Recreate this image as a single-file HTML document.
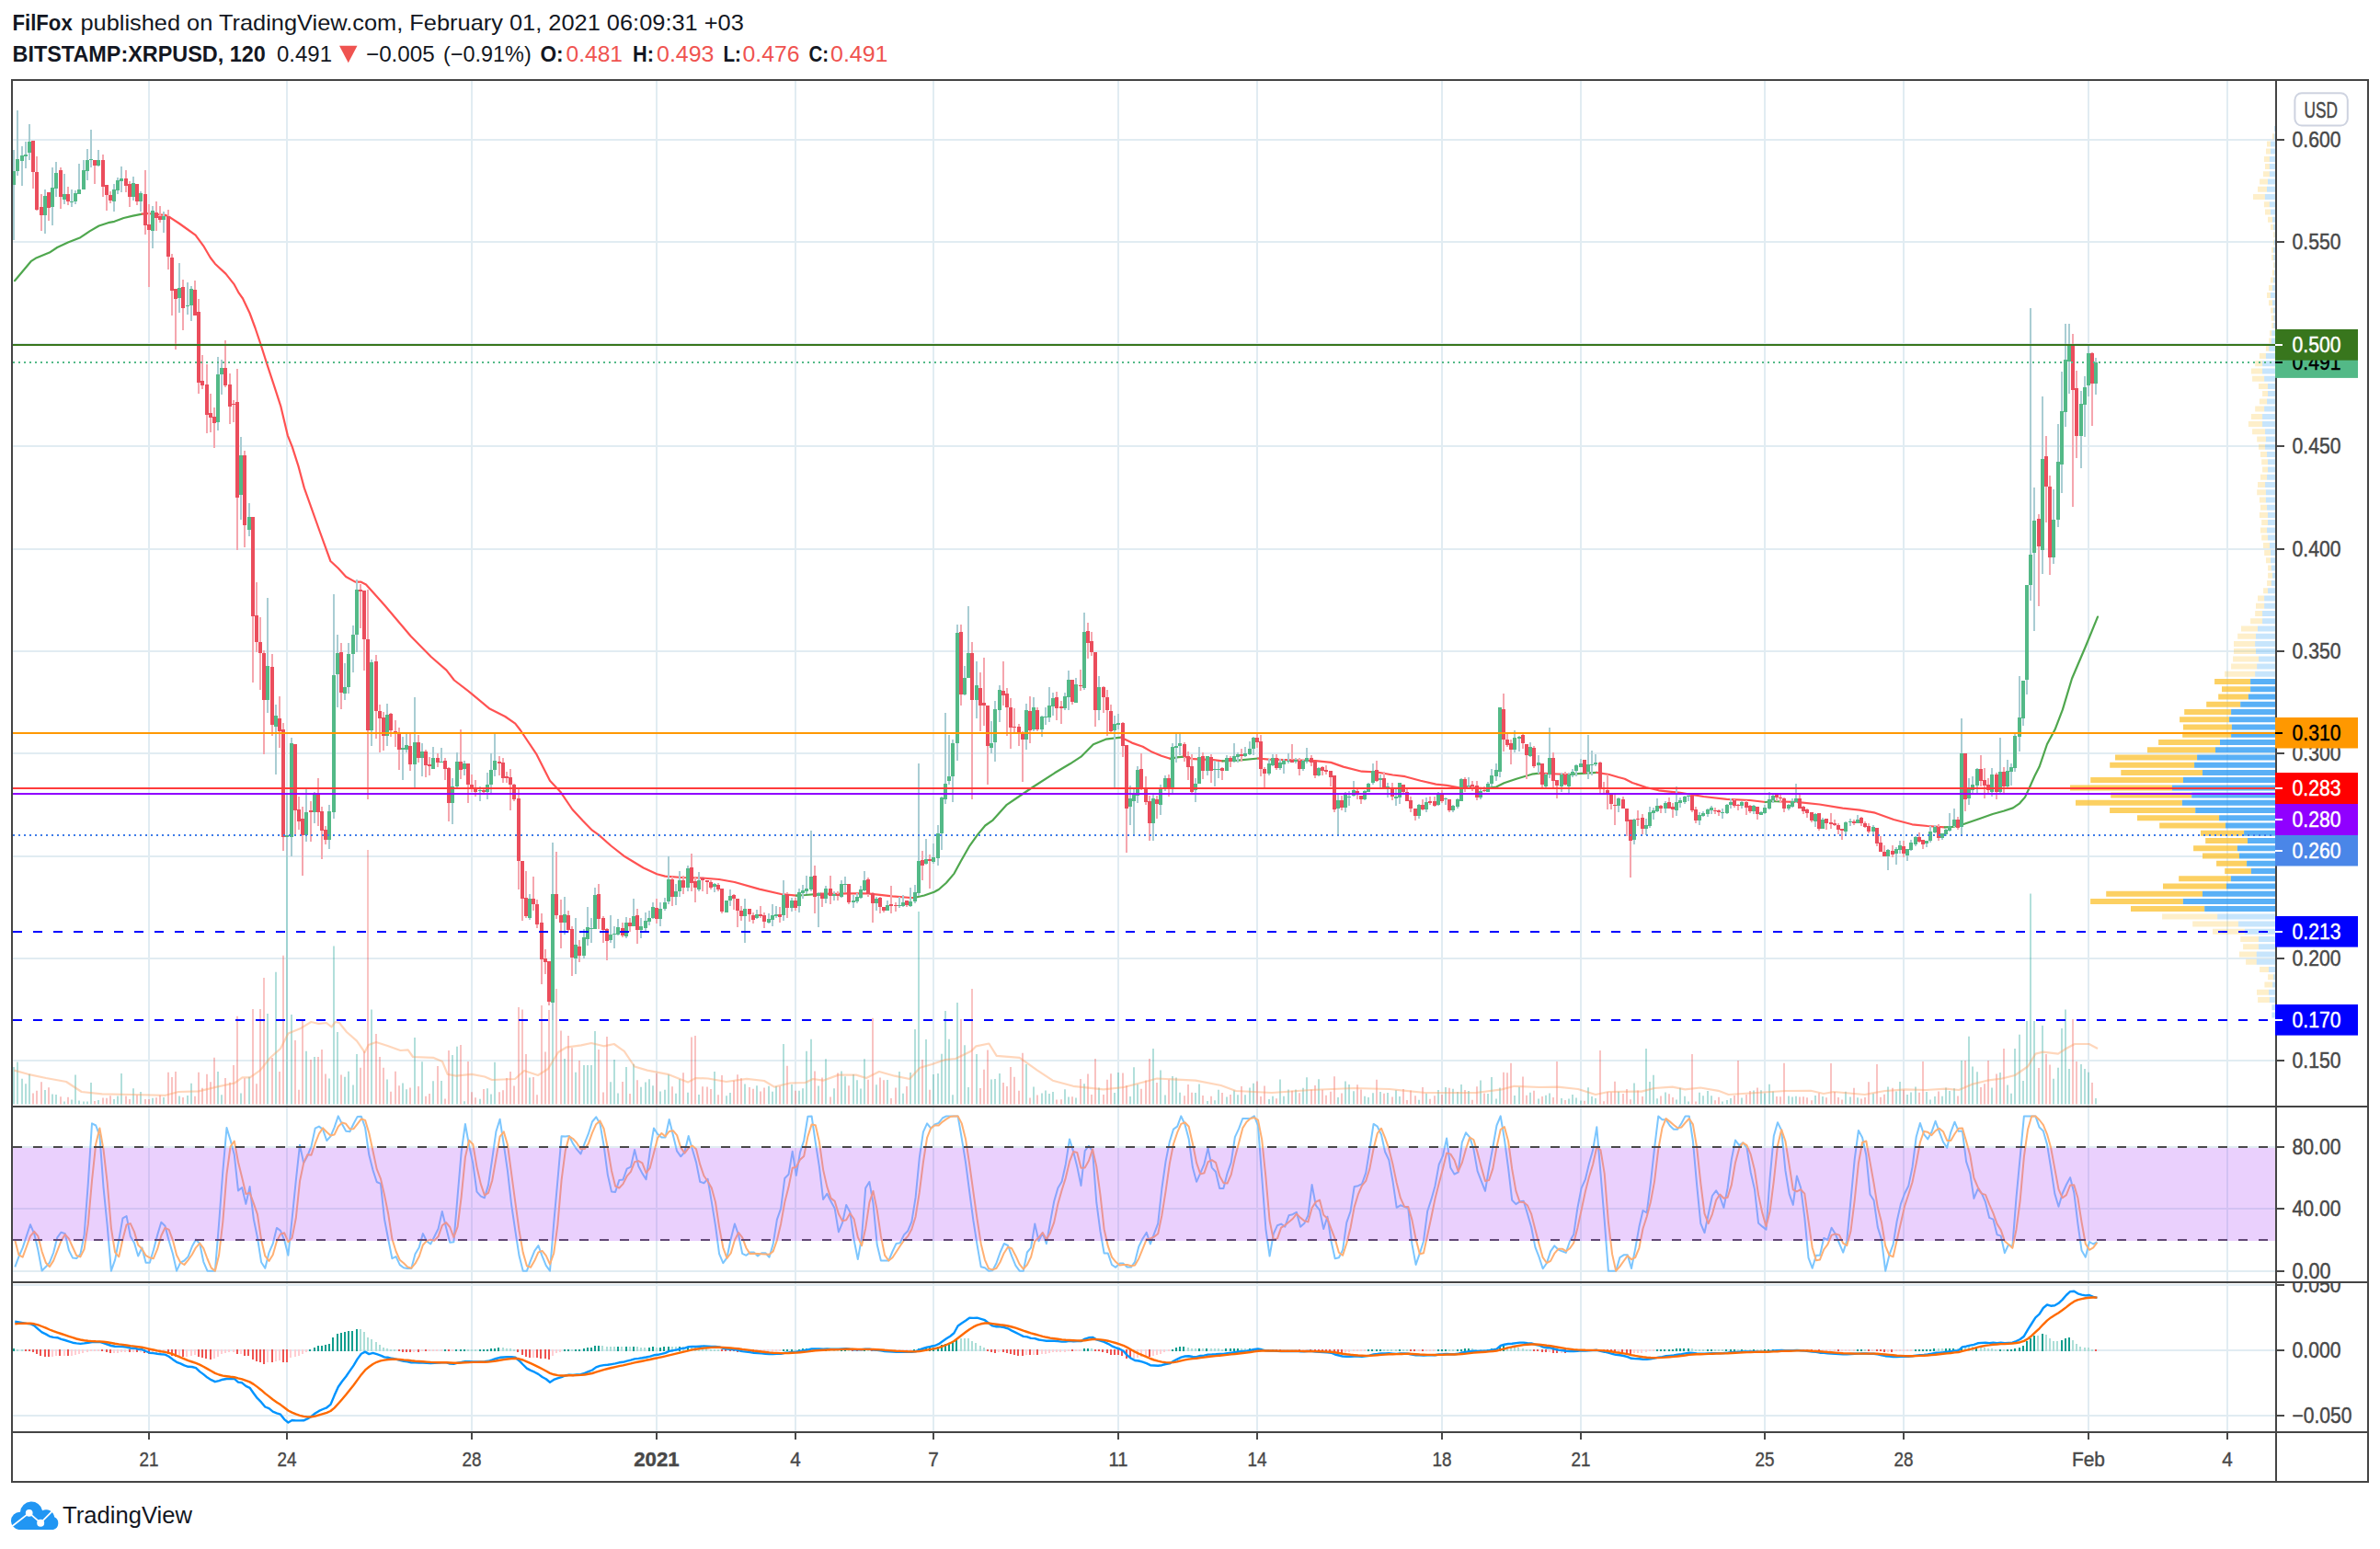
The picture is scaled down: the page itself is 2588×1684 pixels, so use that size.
<!DOCTYPE html><html><head><meta charset="utf-8"><title>XRPUSD chart</title><style>html,body{margin:0;padding:0;background:#fff}svg{display:block}</style></head><body><svg width="2588" height="1684" viewBox="0 0 2588 1684" font-family='"Liberation Sans", sans-serif'>
<rect width="2588" height="1684" fill="#fff"/>
<path d="M162 88V1557M312 88V1557M513 88V1557M714 88V1557M865 88V1557M1015 88V1557M1216 88V1557M1367 88V1557M1568 88V1557M1719 88V1557M1919 88V1557M2070 88V1557M2271 88V1557M2422 88V1557M14 152H2475M14 263H2475M14 374H2475M14 485H2475M14 597H2475M14 708H2475M14 819H2475M14 931H2475M14 1042H2475M14 1153H2475M14 1247H2475M14 1314H2475M14 1382H2475M14 1397H2475M14 1468H2475M14 1539H2475" stroke="#e1ecf2" stroke-width="2" fill="none"/>
<path d="M2408.1 738.1H2447.1V744.1H2408.1ZM2416 746.3H2447.1V752.3H2416ZM2412.2 754.5H2444.9V760.5H2412.2ZM2399.2 762.8H2436.2V768.8H2399.2ZM2375.2 771H2426.1V777H2375.2ZM2370.1 779.3H2424.1V785.3H2370.1ZM2374 787.5H2426.9V793.5H2374ZM2373.2 795.7H2426.1V801.7H2373.2ZM2347.1 804H2414V810H2347.1ZM2335 812.2H2409V818.2H2335ZM2300 820.4H2389.1V826.4H2300ZM2294.2 828.7H2386.1V834.7H2294.2ZM2306.3 836.9H2395V842.9H2306.3ZM2273.2 845.1H2374V851.1H2273.2ZM2251 853.4H2362V859.4H2251ZM2295.2 861.6H2383.2V867.6H2295.2ZM2257 869.8H2372.9V875.8H2257ZM2294.1 878.1H2387.2V884.1H2294.1ZM2324 886.3H2413.1V892.3H2324ZM2348.2 894.5H2420V900.5H2348.2ZM2393 902.8H2440.1V908.8H2393ZM2398.2 911H2444V917H2398.2ZM2385.1 919.2H2432.9V925.2H2385.1ZM2395 927.5H2435V933.5H2395ZM2410.1 935.7H2443.1V941.7H2410.1ZM2419.2 944H2447.9V950H2419.2ZM2369.2 952.2H2425.9V958.2H2369.2ZM2352 960.4H2421V966.4H2352ZM2290.2 968.7H2395V974.7H2290.2ZM2273.1 976.9H2373.9V982.9H2273.1ZM2317 985.1H2397.2V991.1H2317Z" fill="#fbc02d" fill-opacity="0.75"/>
<path d="M2447.1 738.1H2474V744.1H2447.1ZM2447.1 746.3H2474V752.3H2447.1ZM2444.9 754.5H2474V760.5H2444.9ZM2436.2 762.8H2474V768.8H2436.2ZM2426.1 771H2474V777H2426.1ZM2424.1 779.3H2474V785.3H2424.1ZM2426.9 787.5H2474V793.5H2426.9ZM2426.1 795.7H2474V801.7H2426.1ZM2414 804H2474V810H2414ZM2409 812.2H2474V818.2H2409ZM2389.1 820.4H2474V826.4H2389.1ZM2386.1 828.7H2474V834.7H2386.1ZM2395 836.9H2474V842.9H2395ZM2374 845.1H2474V851.1H2374ZM2362 853.4H2474V859.4H2362ZM2383.2 861.6H2474V867.6H2383.2ZM2372.9 869.8H2474V875.8H2372.9ZM2387.2 878.1H2474V884.1H2387.2ZM2413.1 886.3H2474V892.3H2413.1ZM2420 894.5H2474V900.5H2420ZM2440.1 902.8H2474V908.8H2440.1ZM2444 911H2474V917H2444ZM2432.9 919.2H2474V925.2H2432.9ZM2435 927.5H2474V933.5H2435ZM2443.1 935.7H2474V941.7H2443.1ZM2447.9 944H2474V950H2447.9ZM2425.9 952.2H2474V958.2H2425.9ZM2421 960.4H2474V966.4H2421ZM2395 968.7H2474V974.7H2395ZM2373.9 976.9H2474V982.9H2373.9ZM2397.2 985.1H2474V991.1H2397.2Z" fill="#2196f3" fill-opacity="0.75"/>
<path d="M2471 145.2H2472.8V151.2H2471ZM2465 153.4H2468.9V159.4H2465ZM2464 161.6H2468.9V167.6H2464ZM2461.9 169.9H2467.9V175.9H2461.9ZM2463 178.1H2467.9V184.1H2463ZM2461 186.3H2467.9V192.3H2461ZM2457.1 194.6H2466V200.6H2457.1ZM2455 202.8H2465V208.8H2455ZM2450 211H2462.9V217H2450ZM2461.9 219.3H2467.9V225.3H2461.9ZM2463 227.5H2468.9V233.5H2463ZM2466 235.7H2471V241.7H2466ZM2468.9 244H2471.9V250H2468.9ZM2472 252.2H2473.5V258.2H2472ZM2472 260.5H2473V266.5H2472ZM2470 268.7H2471.9V274.7H2470ZM2470 276.9H2472V282.9H2470ZM2472 285.2H2473.3V291.2H2472ZM2471 293.4H2473V299.4H2471ZM2468.9 301.6H2471.9V307.6H2468.9ZM2467 309.9H2471V315.9H2467ZM2465 318.1H2468.9V324.1H2465ZM2467 326.3H2471V332.3H2467ZM2469 334.6H2471.8V340.6H2469ZM2469.8 342.8H2472.3V348.8H2469.8ZM2470.3 351H2472.3V357H2470.3ZM2468.1 359.3H2470.3V365.3H2468.1ZM2467.3 367.5H2469.8V373.5H2467.3ZM2463.9 375.7H2467.3V381.7H2463.9ZM2456.9 384H2463.9V390H2456.9ZM2452.2 392.2H2460.1V398.2H2452.2ZM2447.9 400.4H2460.1V406.4H2447.9ZM2449.1 408.7H2462.2V414.7H2449.1ZM2456 416.9H2466.1V422.9H2456ZM2460.1 425.1H2466.1V431.1H2460.1ZM2456.9 433.4H2465.1V439.4H2456.9ZM2452.2 441.6H2462.2V447.6H2452.2ZM2447.9 449.9H2460.1V455.9H2447.9ZM2444.9 458.1H2460.1V464.1H2444.9ZM2449.1 466.3H2463.1V472.3H2449.1ZM2454.2 474.6H2463.9V480.6H2454.2ZM2456 482.8H2463.1V488.8H2456ZM2458 491H2465.1V497H2458ZM2459.2 499.3H2466.1V505.3H2459.2ZM2460.1 507.5H2466.1V513.5H2460.1ZM2458 515.7H2465.1V521.7H2458ZM2455 524H2463.1V530H2455ZM2454.2 532.2H2463.9V538.2H2454.2ZM2456.9 540.4H2463.9V546.4H2456.9ZM2458 548.7H2465.1V554.7H2458ZM2456.9 556.9H2466.1V562.9H2456.9ZM2459.2 565.1H2466.1V571.1H2459.2ZM2458 573.4H2465.1V579.4H2458ZM2459.2 581.6H2466.1V587.6H2459.2ZM2461 589.9H2468V595.9H2461ZM2462.2 598.1H2469V604.1H2462.2ZM2464 606.3H2469V612.3H2464ZM2466.1 614.6H2469.8V620.6H2466.1ZM2466.1 622.8H2471V628.8H2466.1ZM2465.1 631H2469.8V637H2465.1ZM2461.1 639.3H2466.1V645.3H2461.1ZM2455 647.5H2462.2V653.5H2455ZM2453 655.7H2462.2V661.7H2453ZM2452.2 664H2460.1V670H2452.2ZM2447.1 672.2H2460.1V678.2H2447.1ZM2437 680.4H2455V686.4H2437ZM2433.2 688.7H2453V694.7H2433.2ZM2429 696.9H2452.2V702.9H2429ZM2429 705.1H2453V711.1H2429ZM2428.1 713.4H2456V719.4H2428.1ZM2426.1 721.6H2454.2V727.6H2426.1ZM2419 729.8H2452.2V735.8H2419ZM2351.1 993.4H2411.2V999.4H2351.1ZM2384.2 1001.6H2434V1007.6H2384.2ZM2406 1009.8H2440.9V1015.8H2406ZM2436.2 1018.1H2456V1024.1H2436.2ZM2439.1 1026.3H2456V1032.3H2439.1ZM2435 1034.5H2453.8V1040.5H2435ZM2442.1 1042.8H2453.8V1048.8H2442.1ZM2457.1 1051H2467.1V1057H2457.1ZM2466.1 1059.2H2472V1065.2H2466.1ZM2462.4 1067.5H2471.2V1073.5H2462.4ZM2454 1075.7H2467.1V1081.7H2454ZM2455.1 1084H2467.9V1090H2455.1Z" fill="#fbc02d" fill-opacity="0.25"/>
<path d="M2473 136.9H2474V142.9H2473ZM2472.8 145.2H2474V151.2H2472.8ZM2468.9 153.4H2474V159.4H2468.9ZM2468.9 161.6H2474V167.6H2468.9ZM2467.9 169.9H2474V175.9H2467.9ZM2467.9 178.1H2474V184.1H2467.9ZM2467.9 186.3H2474V192.3H2467.9ZM2466 194.6H2474V200.6H2466ZM2465 202.8H2474V208.8H2465ZM2462.9 211H2474V217H2462.9ZM2467.9 219.3H2474V225.3H2467.9ZM2468.9 227.5H2474V233.5H2468.9ZM2471 235.7H2474V241.7H2471ZM2471.9 244H2474V250H2471.9ZM2473.5 252.2H2474V258.2H2473.5ZM2473 260.5H2474V266.5H2473ZM2471.9 268.7H2474V274.7H2471.9ZM2472 276.9H2474V282.9H2472ZM2473.3 285.2H2474V291.2H2473.3ZM2473 293.4H2474V299.4H2473ZM2471.9 301.6H2474V307.6H2471.9ZM2471 309.9H2474V315.9H2471ZM2468.9 318.1H2474V324.1H2468.9ZM2471 326.3H2474V332.3H2471ZM2471.8 334.6H2474V340.6H2471.8ZM2472.3 342.8H2474V348.8H2472.3ZM2472.3 351H2474V357H2472.3ZM2470.3 359.3H2474V365.3H2470.3ZM2469.8 367.5H2474V373.5H2469.8ZM2467.3 375.7H2474V381.7H2467.3ZM2463.9 384H2474V390H2463.9ZM2460.1 392.2H2474V398.2H2460.1ZM2460.1 400.4H2474V406.4H2460.1ZM2462.2 408.7H2474V414.7H2462.2ZM2466.1 416.9H2474V422.9H2466.1ZM2466.1 425.1H2474V431.1H2466.1ZM2465.1 433.4H2474V439.4H2465.1ZM2462.2 441.6H2474V447.6H2462.2ZM2460.1 449.9H2474V455.9H2460.1ZM2460.1 458.1H2474V464.1H2460.1ZM2463.1 466.3H2474V472.3H2463.1ZM2463.9 474.6H2474V480.6H2463.9ZM2463.1 482.8H2474V488.8H2463.1ZM2465.1 491H2474V497H2465.1ZM2466.1 499.3H2474V505.3H2466.1ZM2466.1 507.5H2474V513.5H2466.1ZM2465.1 515.7H2474V521.7H2465.1ZM2463.1 524H2474V530H2463.1ZM2463.9 532.2H2474V538.2H2463.9ZM2463.9 540.4H2474V546.4H2463.9ZM2465.1 548.7H2474V554.7H2465.1ZM2466.1 556.9H2474V562.9H2466.1ZM2466.1 565.1H2474V571.1H2466.1ZM2465.1 573.4H2474V579.4H2465.1ZM2466.1 581.6H2474V587.6H2466.1ZM2468 589.9H2474V595.9H2468ZM2469 598.1H2474V604.1H2469ZM2469 606.3H2474V612.3H2469ZM2469.8 614.6H2474V620.6H2469.8ZM2471 622.8H2474V628.8H2471ZM2469.8 631H2474V637H2469.8ZM2466.1 639.3H2474V645.3H2466.1ZM2462.2 647.5H2474V653.5H2462.2ZM2462.2 655.7H2474V661.7H2462.2ZM2460.1 664H2474V670H2460.1ZM2460.1 672.2H2474V678.2H2460.1ZM2455 680.4H2474V686.4H2455ZM2453 688.7H2474V694.7H2453ZM2452.2 696.9H2474V702.9H2452.2ZM2453 705.1H2474V711.1H2453ZM2456 713.4H2474V719.4H2456ZM2454.2 721.6H2474V727.6H2454.2ZM2452.2 729.8H2474V735.8H2452.2ZM2411.2 993.4H2474V999.4H2411.2ZM2434 1001.6H2474V1007.6H2434ZM2440.9 1009.8H2474V1015.8H2440.9ZM2456 1018.1H2474V1024.1H2456ZM2456 1026.3H2474V1032.3H2456ZM2453.8 1034.5H2474V1040.5H2453.8ZM2453.8 1042.8H2474V1048.8H2453.8ZM2467.1 1051H2474V1057H2467.1ZM2472 1059.2H2474V1065.2H2472ZM2471.2 1067.5H2474V1073.5H2471.2ZM2467.1 1075.7H2474V1081.7H2467.1ZM2467.9 1084H2474V1090H2467.9ZM2470.4 1092.2H2474V1098.2H2470.4ZM2470.4 1100.4H2474V1106.4H2470.4Z" fill="#2196f3" fill-opacity="0.25"/>
<path d="M15 1159.9V1200.5M19 1154.6V1200.5M24 1172.8V1200.5M28 1178.2V1200.5M32 1167.8V1200.5M49 1184.9V1200.5M57 1189.5V1200.5M61 1189.9V1200.5M70 1197.5V1200.5M78 1195.5V1200.5M82 1168.6V1200.5M86 1196.6V1200.5M91 1197.5V1200.5M95 1197.5V1200.5M99 1177V1200.5M107 1195.9V1200.5M124 1195V1200.5M128 1191.6V1200.5M132 1167V1200.5M145 1183.2V1200.5M153 1186.9V1200.5M166 1193.8V1200.5M178 1193V1200.5M195 1191.6V1200.5M204 1191V1200.5M208 1177.8V1200.5M237 1165V1200.5M241 1190.2V1200.5M262 1188.6V1200.5M271 1170.7V1200.5M291 1102V1200.5M300 1056.8V1200.5M312 864V1200.5M317 1103V1200.5M333 1142.8V1200.5M342 1149V1200.5M358 1172.5V1200.5M363 1028.5V1200.5M367 1122V1200.5M375 1170.8V1200.5M379 1164.8V1200.5M384 1179.6V1200.5M388 1146V1200.5M404 1097.6V1200.5M421 1173.5V1200.5M438 1177.5V1200.5M442 1184.3V1200.5M451 1128V1200.5M459 1154.2V1200.5M471 1175.2V1200.5M480 1174.9V1200.5M492 1147V1200.5M497 1137.8V1200.5M505 1197.3V1200.5M522 1194.7V1200.5M530 1183.2V1200.5M534 1189.4V1200.5M538 1154.7V1200.5M576 1171.4V1200.5M601 1075V1200.5M614 1151V1200.5M626 1165.8V1200.5M635 1158V1200.5M639 1158V1200.5M643 1158V1200.5M647 1121V1200.5M664 1176.2V1200.5M668 1152.1V1200.5M672 1188.5V1200.5M681 1160.1V1200.5M689 1156.8V1200.5M697 1181.7V1200.5M702 1176.5V1200.5M706 1173.2V1200.5M710 1180.2V1200.5M718 1186.6V1200.5M723 1184.8V1200.5M727 1168.3V1200.5M735 1188.7V1200.5M739 1173.2V1200.5M748 1187.8V1200.5M760 1190V1200.5M777 1165V1200.5M790 1191.3V1200.5M794 1188V1200.5M810 1178.6V1200.5M823 1180.3V1200.5M836 1180.8V1200.5M840 1186.8V1200.5M844 1181V1200.5M852 1135V1200.5M861 1179.1V1200.5M869 1185.7V1200.5M873 1183.2V1200.5M877 1142.8V1200.5M882 1129.8V1200.5M890 1180.6V1200.5M898 1151.3V1200.5M907 1183.3V1200.5M915 1164.6V1200.5M919 1170.3V1200.5M928 1167.9V1200.5M932 1174.3V1200.5M936 1183.6V1200.5M940 1151.3V1200.5M953 1179.3V1200.5M965 1173.9V1200.5M978 1165.1V1200.5M982 1188.8V1200.5M990 1166V1200.5M995 1119V1200.5M999 991V1200.5M1007 1129.9V1200.5M1015 1168.1V1200.5M1020 1167V1200.5M1024 1145.7V1200.5M1028 1099V1200.5M1032 1129.8V1200.5M1036 1190.2V1200.5M1041 1090V1200.5M1049 1136.3V1200.5M1053 1182.1V1200.5M1062 1146V1200.5M1078 1173.5V1200.5M1082 1172.9V1200.5M1087 1166.9V1200.5M1116 1156.9V1200.5M1124 1181.5V1200.5M1133 1188.6V1200.5M1137 1185.5V1200.5M1141 1188.9V1200.5M1145 1186.9V1200.5M1158 1184.2V1200.5M1162 1192.6V1200.5M1170 1193.5V1200.5M1179 1178.3V1200.5M1195 1182.4V1200.5M1212 1188V1200.5M1216 1165.9V1200.5M1229 1191.9V1200.5M1233 1160.3V1200.5M1237 1178.8V1200.5M1254 1140V1200.5M1262 1163.5V1200.5M1267 1190.5V1200.5M1275 1169.9V1200.5M1279 1171.5V1200.5M1283 1187.7V1200.5M1300 1188.1V1200.5M1304 1178.6V1200.5M1313 1197.1V1200.5M1321 1196.3V1200.5M1325 1184.8V1200.5M1334 1192.6V1200.5M1342 1185.6V1200.5M1346 1190.2V1200.5M1354 1190.3V1200.5M1359 1182.6V1200.5M1363 1177.8V1200.5M1380 1194.9V1200.5M1384 1191.8V1200.5M1392 1173.5V1200.5M1396 1191.8V1200.5M1401 1184.5V1200.5M1409 1184.4V1200.5M1417 1182.8V1200.5M1421 1171.3V1200.5M1434 1173.3V1200.5M1455 1192.9V1200.5M1463 1175.5V1200.5M1467 1179.1V1200.5M1472 1186.3V1200.5M1484 1191.7V1200.5M1488 1192.9V1200.5M1493 1188.2V1200.5M1501 1187.1V1200.5M1509 1188.1V1200.5M1518 1185.3V1200.5M1522 1192.1V1200.5M1543 1195.7V1200.5M1551 1188.7V1200.5M1564 1184.9V1200.5M1572 1181.9V1200.5M1580 1183.7V1200.5M1585 1186.9V1200.5M1589 1178.9V1200.5M1597 1186.1V1200.5M1610 1174.6V1200.5M1618 1189.1V1200.5M1622 1170.9V1200.5M1627 1194.5V1200.5M1631 1182.6V1200.5M1647 1191.1V1200.5M1652 1181.7V1200.5M1664 1187.7V1200.5M1673 1194.5V1200.5M1681 1190.7V1200.5M1685 1188.5V1200.5M1698 1194V1200.5M1706 1194.4V1200.5M1710 1189.9V1200.5M1714 1193.5V1200.5M1719 1196.4V1200.5M1727 1182.2V1200.5M1731 1192.1V1200.5M1735 1194V1200.5M1760 1186.8V1200.5M1777 1177.5V1200.5M1790 1140V1200.5M1794 1175.9V1200.5M1798 1168.8V1200.5M1802 1194.2V1200.5M1811 1187.4V1200.5M1823 1195.6V1200.5M1827 1182.8V1200.5M1832 1191.7V1200.5M1836 1197.5V1200.5M1848 1187.7V1200.5M1852 1191.3V1200.5M1857 1185.9V1200.5M1861 1191.3V1200.5M1873 1197.5V1200.5M1878 1196.1V1200.5M1882 1194V1200.5M1894 1193.6V1200.5M1907 1185.4V1200.5M1915 1185.3V1200.5M1919 1188.4V1200.5M1924 1178.7V1200.5M1928 1186.4V1200.5M1945 1191.5V1200.5M1949 1192.5V1200.5M1953 1191.8V1200.5M1974 1191V1200.5M1982 1191.9V1200.5M2007 1186.8V1200.5M2012 1192.4V1200.5M2020 1193.2V1200.5M2037 1188.8V1200.5M2053 1181.6V1200.5M2062 1186.6V1200.5M2066 1176V1200.5M2074 1189.9V1200.5M2078 1187.6V1200.5M2083 1181.4V1200.5M2095 1187V1200.5M2099 1195.4V1200.5M2104 1192V1200.5M2112 1191.7V1200.5M2116 1182.5V1200.5M2120 1186.1V1200.5M2125 1183.3V1200.5M2133 1153V1200.5M2141 1126.7V1200.5M2145 1159.4V1200.5M2150 1165.3V1200.5M2166 1182.5V1200.5M2175 1166V1200.5M2183 1179.5V1200.5M2187 1188.7V1200.5M2191 1140V1200.5M2196 1124.8V1200.5M2200 1175.1V1200.5M2204 1110V1200.5M2208 971.6V1200.5M2212 1110V1200.5M2221 1115V1200.5M2233 1172.7V1200.5M2238 1160.8V1200.5M2242 1117.9V1200.5M2246 1097.6V1200.5M2250 1162V1200.5M2263 1157V1200.5M2267 1162V1200.5M2271 1165.8V1200.5M2279 1194V1200.5" stroke="#26a69a" stroke-opacity="0.355" stroke-width="2" fill="none"/>
<path d="M36 1188.5V1200.5M40 1185.8V1200.5M45 1176.3V1200.5M53 1182.3V1200.5M66 1192.2V1200.5M74 1192.7V1200.5M103 1197.1V1200.5M112 1193.4V1200.5M116 1193.8V1200.5M120 1191.2V1200.5M137 1191.5V1200.5M141 1195.1V1200.5M149 1190.5V1200.5M158 1194.9V1200.5M162 1195.1V1200.5M170 1193.3V1200.5M174 1190.7V1200.5M183 1165.8V1200.5M187 1171V1200.5M191 1165V1200.5M199 1193.1V1200.5M212 1191.8V1200.5M216 1165.8V1200.5M220 1182.8V1200.5M225 1167.8V1200.5M229 1176.3V1200.5M233 1149.8V1200.5M245 1172V1200.5M250 1176.8V1200.5M254 1158.1V1200.5M258 1104.8V1200.5M266 1172.2V1200.5M275 1097V1200.5M279 1178.3V1200.5M283 1097V1200.5M287 1063V1200.5M296 1149.9V1200.5M304 1165.1V1200.5M308 1038.8V1200.5M321 1131V1200.5M325 1184.8V1200.5M329 1110V1200.5M338 1152V1200.5M346 1149V1200.5M350 1140.9V1200.5M354 1167.6V1200.5M371 1168.6V1200.5M392 1160.8V1200.5M396 1142.8V1200.5M400 924V1200.5M409 1124V1200.5M413 1149V1200.5M417 1160.8V1200.5M425 1186.8V1200.5M430 1164.7V1200.5M434 1180.3V1200.5M446 1182.6V1200.5M455 1181.1V1200.5M463 1191.7V1200.5M467 1189.1V1200.5M476 1158.9V1200.5M484 1194.4V1200.5M488 1142V1200.5M501 1135.9V1200.5M509 1153.9V1200.5M513 1187.3V1200.5M517 1193.2V1200.5M526 1184.1V1200.5M543 1187.2V1200.5M547 1185.2V1200.5M551 1171.9V1200.5M555 1165V1200.5M559 1180.6V1200.5M564 1095V1200.5M568 1097.6V1200.5M572 1146V1200.5M580 1171.1V1200.5M584 1190.3V1200.5M589 1093V1200.5M593 1143.6V1200.5M597 1098V1200.5M605 1075V1200.5M610 1120.6V1200.5M618 1125.9V1200.5M622 1139.2V1200.5M630 1153.1V1200.5M651 1140.9V1200.5M656 1187.4V1200.5M660 1127V1200.5M677 1176.1V1200.5M685 1189.1V1200.5M693 1174.2V1200.5M714 1166.9V1200.5M731 1181.2V1200.5M743 1166.3V1200.5M752 1127.5V1200.5M756 1126V1200.5M764 1181.3V1200.5M769 1181.6V1200.5M773 1183.9V1200.5M781 1190.2V1200.5M785 1169V1200.5M798 1174.8V1200.5M802 1168.2V1200.5M806 1172.2V1200.5M815 1182.1V1200.5M819 1183.7V1200.5M827 1186.4V1200.5M831 1182.6V1200.5M848 1181.1V1200.5M856 1158.7V1200.5M865 1185.7V1200.5M886 1164.6V1200.5M894 1171.5V1200.5M903 1192.5V1200.5M911 1166.5V1200.5M923 1180.2V1200.5M944 1173.7V1200.5M949 1106.8V1200.5M957 1171.4V1200.5M961 1174.2V1200.5M969 1194.1V1200.5M974 1182.4V1200.5M986 1181V1200.5M1003 1151.9V1200.5M1011 1184.8V1200.5M1045 1108V1200.5M1057 1075V1200.5M1066 1183V1200.5M1070 1162.8V1200.5M1074 1141.4V1200.5M1091 1177V1200.5M1095 1181V1200.5M1099 1160V1200.5M1103 1170.7V1200.5M1108 1185.8V1200.5M1112 1144.8V1200.5M1120 1193.6V1200.5M1128 1190.4V1200.5M1149 1195.5V1200.5M1154 1195.2V1200.5M1166 1192.3V1200.5M1175 1173V1200.5M1183 1167.4V1200.5M1187 1190.1V1200.5M1191 1151V1200.5M1200 1190.1V1200.5M1204 1173.7V1200.5M1208 1167.3V1200.5M1221 1166.5V1200.5M1225 1180.3V1200.5M1241 1183.7V1200.5M1246 1174.6V1200.5M1250 1151V1200.5M1258 1177V1200.5M1271 1173.7V1200.5M1288 1191.2V1200.5M1292 1179.1V1200.5M1296 1187.7V1200.5M1308 1191.1V1200.5M1317 1191.7V1200.5M1329 1188.1V1200.5M1338 1189.9V1200.5M1350 1180.9V1200.5M1367 1175.5V1200.5M1371 1191.9V1200.5M1375 1180.5V1200.5M1388 1194.3V1200.5M1405 1185.8V1200.5M1413 1188.3V1200.5M1426 1184.5V1200.5M1430 1179.9V1200.5M1438 1184.8V1200.5M1442 1190.8V1200.5M1447 1186.7V1200.5M1451 1170.3V1200.5M1459 1188.4V1200.5M1476 1179.2V1200.5M1480 1184.4V1200.5M1497 1173.7V1200.5M1505 1188.7V1200.5M1514 1192.4V1200.5M1526 1183.9V1200.5M1530 1195.9V1200.5M1534 1185.4V1200.5M1539 1191.3V1200.5M1547 1182.1V1200.5M1555 1194.8V1200.5M1560 1191.3V1200.5M1568 1190.1V1200.5M1576 1182.8V1200.5M1593 1185V1200.5M1601 1195.7V1200.5M1606 1181.3V1200.5M1614 1188.4V1200.5M1635 1165.8V1200.5M1639 1166.2V1200.5M1643 1155.8V1200.5M1656 1170.4V1200.5M1660 1190.7V1200.5M1668 1185.7V1200.5M1677 1191.9V1200.5M1689 1193.1V1200.5M1693 1154V1200.5M1702 1196.1V1200.5M1723 1196.8V1200.5M1740 1142V1200.5M1744 1197.2V1200.5M1748 1187.2V1200.5M1752 1187.5V1200.5M1756 1175.7V1200.5M1765 1189V1200.5M1769 1183.9V1200.5M1773 1195.3V1200.5M1781 1185.4V1200.5M1786 1191.9V1200.5M1806 1191.5V1200.5M1815 1189.3V1200.5M1819 1192.9V1200.5M1840 1145.9V1200.5M1844 1197.5V1200.5M1865 1196.3V1200.5M1869 1192.8V1200.5M1886 1191V1200.5M1890 1153V1200.5M1899 1190.1V1200.5M1903 1185.9V1200.5M1911 1182.5V1200.5M1932 1192V1200.5M1936 1192.3V1200.5M1940 1155.8V1200.5M1957 1192.5V1200.5M1961 1192.2V1200.5M1965 1193.3V1200.5M1970 1196.2V1200.5M1978 1188.6V1200.5M1986 1193.3V1200.5M1991 1156V1200.5M1995 1186.9V1200.5M1999 1193V1200.5M2003 1195.4V1200.5M2016 1182.7V1200.5M2024 1194.5V1200.5M2028 1193.1V1200.5M2032 1176.3V1200.5M2041 1157V1200.5M2045 1192.7V1200.5M2049 1189.8V1200.5M2058 1182.8V1200.5M2070 1184.7V1200.5M2087 1187.8V1200.5M2091 1154V1200.5M2108 1186.5V1200.5M2129 1191.4V1200.5M2137 1153V1200.5M2154 1182.1V1200.5M2158 1178.3V1200.5M2162 1152.9V1200.5M2171 1167.6V1200.5M2179 1140V1200.5M2217 1161V1200.5M2225 1146.1V1200.5M2229 1157.5V1200.5M2254 1108V1200.5M2258 1154V1200.5M2275 1177V1200.5" stroke="#ef5350" stroke-opacity="0.35" stroke-width="2" fill="none"/>
<path d="M15.3 1163.6L30.5 1167.8L50 1172L72 1176L88.7 1187L111 1189.4L144 1190L180 1190.8L194 1187L216 1186.4L235.7 1181.6L255 1177.5L263.5 1171.4L271.8 1171.4L282.9 1163.6L294 1149.8L305 1140L313.4 1123.4L327 1117.9L338.3 1111L346.6 1113L355 1112L360.5 1116.5L364.7 1111L369 1112L377 1122L388 1131.7L396.6 1144L400.7 1136L409 1133L421.5 1137L435.4 1142L443.7 1141.4L449 1149L471 1149.8L481 1154L486.7 1167.8L496 1169.7L513 1167.8L527 1170.5L535 1174L560 1173L570 1164L585 1169L596 1162L607 1144L615.6 1138.7L632 1136.4L643 1134L656.6 1137.3L667.7 1135L678.8 1142.8L690 1159.5L703.8 1163.6L726 1167.8L748 1176.6L756.5 1172L770 1172.5L789.7 1176L812 1172.8L831 1175L842 1181.6L859 1177.5L875.7 1177L884 1173L895 1174.7L911.8 1168.6L931 1168.6L942 1172L956 1165L972.8 1169.7L989 1173L1000.5 1160.8L1014.4 1156.7L1028 1152L1039 1151L1056 1142.8L1061.5 1137.3L1075.4 1134.5L1083.7 1147.8L1108.7 1149.8L1128 1163.6L1144.7 1174.7L1167 1180.8L1200 1184.4L1222 1182L1250 1174.7L1258 1172.5L1300 1174.7L1327.7 1180L1344 1186L1383 1188L1425 1185L1472 1183L1511 1184L1549.6 1188L1605 1188L1633 1184.4L1646.6 1180.8L1674 1182L1694 1181.6L1716 1184L1735 1190L1749 1187L1785 1186.6L1799 1183L1818.6 1181.6L1832.4 1184.4L1849 1182.5L1868.5 1185.8L1879.6 1190L1910 1188L1941.6 1186L1969 1185.8L1983 1189L1994 1187L2027.6 1190L2049.8 1186L2072 1184.4L2094 1185L2116 1183.6L2130 1185L2144 1178.9L2160.7 1174.7L2177 1172.5L2191 1169L2205 1159.5L2213.4 1145.6L2221.7 1143.6L2238 1145.6L2246.6 1140L2256 1135L2271.6 1135L2281 1140" stroke="#ff9d5c" stroke-opacity="0.42" stroke-width="2.2" fill="none" stroke-linejoin="round"/>
<path d="M16 305.2L33.6 284.2L38.7 280.8L53.8 274.6L62.2 269L74 263.5L87.4 258.2L97.5 251.4L107.6 245.5L117.6 242.2L124.4 240.8L134.5 237L144.5 234.6L154.6 232.6" stroke="#4fa74e" stroke-width="2.2" fill="none" stroke-linejoin="round" stroke-linecap="round"/>
<path d="M154.6 232.6L161.3 232L168 233L179.8 233.8L184.9 236.3L195 243L203.4 249L212.6 255.6L221.8 268.2L228.7 280L233.8 286.7L245.5 297.6L254.8 309.4L259.8 318.7L264 324.5L271.6 340.5L277.5 356.5L283.4 374L290.9 397.6L297.6 417.8L305.2 441.3L312.8 473.3L317.8 485.9L324.5 506.9L330.8 530.4L347.6 577.5L359.4 610L367.8 617.8L376.2 627L386.3 632.6L392.2 632.6L398 635.5L404.8 643L418.2 658L446.8 691.8L468.7 714L485.5 728.6L493.9 739.5L512.4 753.8L532.5 770.6L549.3 779L560.3 786.6L566 794L583 819.3L598 848.7L609.8 861.3L622.4 880L634 892.6L644 902.7L651 907.7L664.4 919.5L679.5 931.3L699.7 943.5L714.3 950.3L723.2 952.6L741.7 954L763.5 954.5L782 956L798.8 959L825.7 966.6L849.2 972L866 973.6" stroke="#ff5252" stroke-width="2.2" fill="none" stroke-linejoin="round" stroke-linecap="round"/>
<path d="M866 973.6L876 973L893 971.6" stroke="#4fa74e" stroke-width="2.2" fill="none" stroke-linejoin="round" stroke-linecap="round"/>
<path d="M893 971.6L910 971.8L920 971.4L943.5 971.4L970.4 974.3L990.6 976L994 976" stroke="#ff5252" stroke-width="2.2" fill="none" stroke-linejoin="round" stroke-linecap="round"/>
<path d="M994 976L1005 973.5L1015.8 969.7L1020.8 967L1029 959.7L1037.6 949.6L1044.4 937L1054.5 919.3L1062.9 907.6L1071.3 897.5L1079.7 891.6L1094.8 874.8L1104.9 868L1123.4 855.5L1146.9 840.3L1163.7 830.3L1175.5 822.7L1188.9 809.2L1202.4 803.7L1219.2 801.7" stroke="#4fa74e" stroke-width="2.2" fill="none" stroke-linejoin="round" stroke-linecap="round"/>
<path d="M1219.2 801.7L1230.9 807.6L1242.7 811.8L1252.8 817.6L1262.9 821.8L1273 824.9" stroke="#ff5252" stroke-width="2.2" fill="none" stroke-linejoin="round" stroke-linecap="round"/>
<path d="M1273 824.9L1281.3 823.2L1288 822.7" stroke="#4fa74e" stroke-width="2.2" fill="none" stroke-linejoin="round" stroke-linecap="round"/>
<path d="M1288 822.7L1298 825.2L1319.3 826.2L1329.4 827.4" stroke="#ff5252" stroke-width="2.2" fill="none" stroke-linejoin="round" stroke-linecap="round"/>
<path d="M1329.4 827.4L1346.2 826.6L1368 824.5" stroke="#4fa74e" stroke-width="2.2" fill="none" stroke-linejoin="round" stroke-linecap="round"/>
<path d="M1368 824.5L1379.8 825.7L1396.8 826L1430.4 827.2L1447.2 828.9L1460.7 833.6L1480.8 838.7L1497.6 839.5L1514.5 842.5L1527.9 844.2L1544.7 848.7L1561.5 852.6L1573.3 853.8L1586.7 856.3L1598.5 856L1615.3 857.1" stroke="#ff5252" stroke-width="2.2" fill="none" stroke-linejoin="round" stroke-linecap="round"/>
<path d="M1615.3 857.1L1627 855.5L1635.5 851.3L1648.9 846.7L1665.7 841.7L1674 840.7" stroke="#4fa74e" stroke-width="2.2" fill="none" stroke-linejoin="round" stroke-linecap="round"/>
<path d="M1674 840.7L1694.3 841.5L1707.7 842" stroke="#ff5252" stroke-width="2.2" fill="none" stroke-linejoin="round" stroke-linecap="round"/>
<path d="M1707.7 842L1716 841.2L1736.3 839.8" stroke="#4fa74e" stroke-width="2.2" fill="none" stroke-linejoin="round" stroke-linecap="round"/>
<path d="M1736.3 839.8L1749.7 842L1760 845L1766.7 846.7L1775 851L1790 856L1803.7 859.3L1827 861.8L1852.4 866L1877.6 868.9L1902.9 870L1919.7 872" stroke="#ff5252" stroke-width="2.2" fill="none" stroke-linejoin="round" stroke-linecap="round"/>
<path d="M1919.7 872L1928 871L1936 871.5" stroke="#4fa74e" stroke-width="2.2" fill="none" stroke-linejoin="round" stroke-linecap="round"/>
<path d="M1936 871.5L1953.3 871.9L1978.5 874.5L2003.7 878.7L2022.2 880.7L2039 883.7L2059.2 891L2079.3 896.3L2096 898L2114.6 899.3" stroke="#ff5252" stroke-width="2.2" fill="none" stroke-linejoin="round" stroke-linecap="round"/>
<path d="M2114.6 899.3L2123 898.8L2133 896.8L2152 890.2L2166.8 885L2178.6 881.8L2188.9 878.4L2196.2 873.3L2202 866.6L2206.5 857L2212.4 843.8L2217.6 833.6L2226 809L2234.5 793.3L2242.9 771.4L2253 737.8L2268 702.5L2281 670.6" stroke="#4fa74e" stroke-width="2.2" fill="none" stroke-linejoin="round" stroke-linecap="round"/>
<g shape-rendering="crispEdges">
<path d="M15 163V261M19 120V191M24 159V202M28 154V183M32 135V174M49 206V254M57 182V245M61 176V214M70 189V222M78 206V225M82 207V222M86 178V211M91 174V206M95 162V196M99 141V182M107 163V181M124 200V230M128 193V211M132 181V209M145 192V218M153 208V230M166 224V270M178 230V253M195 286V340M204 307V342M208 311V349M237 388V468M241 391V429M262 475V565M271 547V583M291 650V775M300 766V842M312 864V931M317 802V931M333 858V915M342 861V895M358 875V923M363 646V890M367 690V769M375 721V761M379 699V754M384 680V731M388 630V709M404 717V811M421 765V811M438 801V848M442 798V818M451 758V858M459 808V844M471 812V836M480 813V829M492 846V896M497 818V857M505 827V843M522 855V871M530 840V869M534 819V862M538 798V844M576 972V1000M601 916V1109M614 975V1016M626 998V1059M635 1010V1042M639 986V1028M643 998V1025M647 965V1010M664 995V1025M668 1007V1031M672 999V1017M681 997V1020M689 977V1007M697 998V1020M702 992V1012M706 990V1006M710 981V999M718 981V1007M723 976V990M727 931V983M735 961V984M739 947V975M748 941V969M760 948V969M777 960V970M790 979V992M794 967V985M810 977V1025M823 989V999M836 993V1004M840 983V1007M844 985V998M852 957V1001M861 976V991M869 966V992M873 962V977M877 952V972M882 903V969M890 970V1008M898 963V982M907 969V979M915 957V976M919 953V970M928 973V987M932 971V982M936 963V977M940 947V969M953 975V990M965 979V990M978 975V987M982 973V986M990 965V986M995 962V982M999 830V974M1007 912V940M1015 917V939M1020 897V941M1024 866V924M1028 775V874M1032 799V853M1036 804V872M1041 679V827M1049 724V756M1053 659V737M1062 719V781M1078 784V819M1082 762V828M1087 745V785M1116 765V815M1124 758V795M1133 778V801M1137 769V788M1141 747V785M1145 753V778M1158 753V772M1162 729V772M1170 737V764M1179 666V750M1195 735V783M1212 778V858M1216 776V793M1229 854V897M1233 856V908M1237 833V873M1254 862V914M1262 853V886M1267 843V860M1275 808V862M1279 798V829M1283 798V821M1300 846V872M1304 812V852M1313 822V843M1321 827V855M1325 828V846M1334 821V838M1342 808V829M1346 818V829M1354 812V823M1359 806V821M1363 801V821M1380 825V843M1384 820V833M1392 825V837M1396 825V841M1401 819V830M1409 824V830M1417 826V838M1421 813V830M1434 834V844M1455 864V908M1463 861V883M1467 860V876M1472 849V866M1484 859V870M1488 851V861M1493 830V853M1501 842V856M1509 851V867M1518 858V876M1522 851V874M1543 874V890M1551 867V883M1564 861V876M1572 867V875M1580 875V883M1585 868V879M1589 846V871M1597 845V856M1610 857V869M1618 850V861M1622 836V855M1627 830V849M1631 769V845M1647 794V818M1652 800V817M1664 807V823M1673 821V841M1681 841V858M1685 791V846M1698 840V861M1706 840V862M1710 836V845M1714 831V844M1719 825V834M1727 799V847M1731 816V843M1735 820V833M1760 867V883M1777 890V918M1790 890V908M1794 877V900M1798 878V891M1802 868V883M1811 871V884M1823 855V887M1827 867V878M1832 865V874M1836 864V871M1848 883V897M1852 882V888M1857 879V888M1861 876V885M1873 879V890M1878 874V885M1882 868V879M1894 871V879M1907 875V885M1915 882V886M1919 875V885M1924 861V880M1928 864V873M1945 874V881M1949 868V878M1953 852V873M1974 884V899M1982 889V901M2007 893V907M2012 890V898M2020 886V895M2037 897V907M2053 923V946M2062 921V940M2066 914V928M2074 923V936M2078 913V925M2083 909V920M2095 914V921M2099 898V916M2104 897V906M2112 906V913M2116 901V909M2120 884V904M2125 879V899M2133 781V908M2141 846V875M2145 844V863M2150 835V862M2166 835V866M2175 802V864M2183 826V856M2187 830V854M2191 798V839M2196 735V817M2200 740V789M2204 636V755M2208 335V653M2212 530V686M2221 431V624M2233 532V613M2238 461V573M2242 404V536M2246 352V464M2250 352V428M2263 425V509M2267 409V475M2271 375V431M2279 389V429" stroke="#a9cdd3" stroke-width="2" fill="none"/>
<path d="M36 153V205M40 170V229M45 211V251M53 209V240M66 182V227M74 203V223M103 174V200M112 168V214M116 201V229M120 208V221M137 185V209M141 197V225M149 200V223M158 185V255M162 222V312M170 219V251M174 224V242M183 228V293M187 276V343M191 314V380M199 304V359M212 305V343M216 325V428M220 386V423M225 396V471M229 428V470M233 443V487M245 370V421M250 406V461M254 435V459M258 401V598M266 490V595M275 562V742M279 633V709M283 671V750M287 707V820M296 711V800M304 757V813M308 786V925M321 809V907M325 866V902M329 877V952M338 871V915M346 846V898M350 877V934M354 898V918M371 699V771M392 635V683M396 642V729M400 641V869M409 712V803M413 766V818M417 774V816M425 775V801M430 783V812M434 791V837M446 798V838M455 799V829M463 815V845M467 823V843M476 819V834M484 824V848M488 834V893M501 793V847M509 830V873M513 842V861M517 848V866M526 858V864M543 822V843M547 824V851M551 839V851M555 836V881M559 852V871M564 858V967M568 936V1001M572 947V998M580 953V990M584 978V1009M589 993V1070M593 1032V1059M597 1045V1093M605 926V999M610 978V1031M618 990V1014M622 1007V1061M630 1022V1046M651 961V1010M656 996V1025M660 1009V1044M677 1003V1019M685 998V1013M693 988V1026M714 977V1004M731 953V985M743 952V972M752 928V969M756 954V981M764 953V969M769 957V972M773 957V967M781 960V969M785 966V993M798 972V989M802 977V1008M806 985V1001M815 988V1002M819 992V1004M827 985V998M831 992V1009M848 986V1003M856 970V998M865 976V990M886 941V993M894 970V986M903 952V983M911 969V979M923 961V983M944 954V975M949 970V1003M957 975V993M961 986V992M969 963V993M974 981V991M986 979V986M1003 925V957M1011 929V966M1045 679V767M1057 698V869M1066 731V795M1070 715V789M1074 767V853M1091 719V767M1095 748V800M1099 759V814M1103 770V798M1108 787V811M1112 795V850M1120 757V808M1128 769V795M1149 752V783M1154 762V787M1166 739V766M1175 728V751M1183 677V716M1187 687V713M1191 709V790M1200 746V775M1204 750V800M1208 766V798M1221 785V823M1225 810V927M1241 819V859M1246 844V875M1250 865V914M1258 865V890M1271 842V866M1288 807V828M1292 817V848M1296 820V862M1308 818V847M1317 820V851M1329 834V848M1338 822V834M1350 814V828M1367 798V813M1371 799V844M1375 834V858M1388 820V837M1405 809V829M1413 824V843M1426 821V833M1430 828V846M1438 833V843M1442 832V842M1447 838V855M1451 843V883M1459 865V881M1476 856V869M1480 865V874M1497 827V850M1505 839V858M1514 851V870M1526 853V862M1530 857V871M1534 866V883M1539 879V892M1547 869V881M1555 866V875M1560 866V877M1568 859V873M1576 869V883M1593 845V861M1601 849V860M1606 849V870M1614 855V861M1635 754V817M1639 798V812M1643 804V831M1656 798V814M1660 809V847M1668 811V835M1677 830V858M1689 818V856M1693 848V868M1702 839V854M1723 826V841M1740 828V862M1744 850V862M1748 842V880M1752 863V880M1756 864V897M1765 866V879M1769 879V909M1773 891V954M1781 881V898M1786 885V907M1806 875V884M1815 867V879M1819 873V889M1840 865V883M1844 877V895M1865 878V885M1869 880V887M1886 869V878M1890 874V881M1899 870V886M1903 875V884M1911 877V891M1932 863V871M1936 864V873M1940 867V883M1957 864V879M1961 876V885M1965 879V889M1970 883V894M1978 884V903M1986 890V902M1991 884V901M1995 891V898M1999 895V907M2003 901V913M2016 891V897M2024 888V898M2028 893V900M2032 895V906M2041 900V920M2045 909V926M2049 919V931M2058 919V932M2070 914V932M2087 905V916M2091 913V923M2108 896V914M2129 888V902M2137 819V882M2154 821V855M2158 835V868M2162 846V864M2171 840V869M2179 834V862M2217 559V659M2225 474V568M2229 517V625M2254 363V551M2258 403V498M2275 383V463" stroke="#f5a6ae" stroke-width="2" fill="none"/>
<path d="M13 186h4V201h-4ZM17 173h4V186h-4ZM22 169h4V175h-4ZM26 168h4V170h-4ZM30 154h4V166h-4ZM47 213h4V234h-4ZM55 204h4V225h-4ZM59 188h4V205h-4ZM68 211h4V217h-4ZM76 219h4V220h-4ZM80 210h4V219h-4ZM84 206h4V211h-4ZM89 185h4V206h-4ZM93 174h4V186h-4ZM97 173h4V174h-4ZM105 174h4V180h-4ZM122 206h4V219h-4ZM126 196h4V207h-4ZM130 194h4V197h-4ZM143 199h4V214h-4ZM151 210h4V219h-4ZM164 229h4V251h-4ZM176 235h4V239h-4ZM193 313h4V324h-4ZM202 332h4V333h-4ZM206 314h4V332h-4ZM235 407h4V459h-4ZM239 400h4V407h-4ZM260 495h4V538h-4ZM269 562h4V576h-4ZM289 724h4V761h-4ZM298 778h4V790h-4ZM310 908h4V910h-4ZM315 808h4V910h-4ZM331 883h4V908h-4ZM340 864h4V883h-4ZM356 882h4V913h-4ZM361 734h4V883h-4ZM365 710h4V733h-4ZM373 747h4V754h-4ZM377 711h4V747h-4ZM382 690h4V711h-4ZM386 641h4V690h-4ZM402 720h4V794h-4ZM419 777h4V800h-4ZM436 813h4V815h-4ZM440 810h4V815h-4ZM449 807h4V831h-4ZM457 817h4V824h-4ZM469 824h4V836h-4ZM478 828h4V829h-4ZM490 855h4V873h-4ZM495 828h4V855h-4ZM503 830h4V836h-4ZM520 859h4V860h-4ZM528 853h4V861h-4ZM532 837h4V853h-4ZM536 827h4V837h-4ZM574 977h4V998h-4ZM599 972h4V1090h-4ZM612 994h4V1003h-4ZM624 1027h4V1042h-4ZM633 1019h4V1039h-4ZM637 1008h4V1021h-4ZM641 1009h4V1010h-4ZM645 973h4V1010h-4ZM662 1016h4V1022h-4ZM666 1015h4V1016h-4ZM670 1008h4V1016h-4ZM679 1003h4V1018h-4ZM687 996h4V1007h-4ZM695 1007h4V1011h-4ZM700 1001h4V1009h-4ZM704 998h4V1002h-4ZM708 986h4V998h-4ZM716 988h4V999h-4ZM721 981h4V988h-4ZM725 956h4V980h-4ZM733 969h4V975h-4ZM737 957h4V969h-4ZM746 944h4V965h-4ZM758 957h4V967h-4ZM775 961h4V964h-4ZM788 979h4V992h-4ZM792 974h4V979h-4ZM808 988h4V996h-4ZM821 994h4V998h-4ZM834 999h4V1003h-4ZM838 995h4V1000h-4ZM842 994h4V996h-4ZM850 973h4V995h-4ZM859 979h4V987h-4ZM867 970h4V985h-4ZM871 968h4V971h-4ZM875 966h4V969h-4ZM880 953h4V967h-4ZM888 971h4V974h-4ZM896 966h4V977h-4ZM905 972h4V974h-4ZM913 961h4V975h-4ZM917 961h4V962h-4ZM926 979h4V981h-4ZM930 975h4V980h-4ZM934 967h4V976h-4ZM938 957h4V968h-4ZM951 977h4V982h-4ZM963 984h4V990h-4ZM976 984h4V985h-4ZM980 981h4V985h-4ZM988 980h4V985h-4ZM993 970h4V980h-4ZM997 936h4V971h-4ZM1005 934h4V939h-4ZM1013 932h4V937h-4ZM1018 906h4V933h-4ZM1022 867h4V906h-4ZM1026 852h4V869h-4ZM1030 844h4V849h-4ZM1034 808h4V844h-4ZM1039 688h4V808h-4ZM1047 737h4V755h-4ZM1051 710h4V737h-4ZM1060 745h4V761h-4ZM1076 808h4V813h-4ZM1080 771h4V807h-4ZM1085 750h4V772h-4ZM1114 772h4V804h-4ZM1122 769h4V793h-4ZM1131 779h4V793h-4ZM1135 779h4V780h-4ZM1139 767h4V780h-4ZM1143 759h4V768h-4ZM1156 757h4V770h-4ZM1160 739h4V758h-4ZM1168 744h4V764h-4ZM1177 687h4V748h-4ZM1193 747h4V772h-4ZM1210 787h4V794h-4ZM1214 786h4V788h-4ZM1227 868h4V877h-4ZM1231 864h4V871h-4ZM1235 837h4V865h-4ZM1252 868h4V895h-4ZM1260 858h4V875h-4ZM1265 846h4V858h-4ZM1273 812h4V857h-4ZM1277 811h4V813h-4ZM1281 808h4V811h-4ZM1298 852h4V859h-4ZM1302 823h4V852h-4ZM1311 822h4V838h-4ZM1319 836h4V837h-4ZM1323 836h4V837h-4ZM1332 824h4V838h-4ZM1340 822h4V828h-4ZM1344 820h4V823h-4ZM1352 819h4V822h-4ZM1357 814h4V820h-4ZM1361 802h4V814h-4ZM1378 830h4V841h-4ZM1382 824h4V832h-4ZM1390 829h4V835h-4ZM1394 827h4V831h-4ZM1399 827h4V828h-4ZM1407 826h4V828h-4ZM1415 827h4V836h-4ZM1419 824h4V828h-4ZM1432 835h4V843h-4ZM1453 870h4V879h-4ZM1461 862h4V878h-4ZM1465 866h4V867h-4ZM1470 859h4V865h-4ZM1482 860h4V869h-4ZM1486 852h4V861h-4ZM1491 838h4V851h-4ZM1499 846h4V848h-4ZM1507 855h4V857h-4ZM1516 866h4V868h-4ZM1520 851h4V867h-4ZM1541 875h4V887h-4ZM1549 872h4V880h-4ZM1562 863h4V875h-4ZM1570 868h4V869h-4ZM1578 876h4V881h-4ZM1583 869h4V877h-4ZM1587 847h4V871h-4ZM1595 854h4V855h-4ZM1608 860h4V867h-4ZM1616 852h4V861h-4ZM1620 843h4V852h-4ZM1625 837h4V844h-4ZM1629 769h4V839h-4ZM1645 802h4V815h-4ZM1650 801h4V803h-4ZM1662 812h4V822h-4ZM1671 829h4V832h-4ZM1679 842h4V855h-4ZM1683 824h4V842h-4ZM1696 842h4V855h-4ZM1704 842h4V855h-4ZM1708 839h4V843h-4ZM1712 832h4V838h-4ZM1717 830h4V834h-4ZM1725 831h4V839h-4ZM1729 831h4V832h-4ZM1733 829h4V831h-4ZM1758 868h4V876h-4ZM1775 891h4V913h-4ZM1788 897h4V901h-4ZM1792 883h4V898h-4ZM1796 881h4V884h-4ZM1800 876h4V882h-4ZM1809 873h4V879h-4ZM1821 872h4V881h-4ZM1825 870h4V873h-4ZM1830 866h4V872h-4ZM1834 865h4V866h-4ZM1846 886h4V892h-4ZM1850 884h4V887h-4ZM1855 880h4V885h-4ZM1859 878h4V881h-4ZM1871 883h4V884h-4ZM1876 875h4V884h-4ZM1880 872h4V875h-4ZM1892 872h4V876h-4ZM1905 876h4V882h-4ZM1913 883h4V886h-4ZM1917 878h4V884h-4ZM1922 869h4V879h-4ZM1926 865h4V870h-4ZM1943 875h4V879h-4ZM1947 871h4V877h-4ZM1951 868h4V872h-4ZM1972 885h4V893h-4ZM1980 891h4V901h-4ZM2005 894h4V904h-4ZM2010 893h4V894h-4ZM2018 891h4V895h-4ZM2035 899h4V904h-4ZM2051 924h4V931h-4ZM2060 923h4V928h-4ZM2064 919h4V924h-4ZM2072 923h4V930h-4ZM2076 916h4V924h-4ZM2081 910h4V918h-4ZM2093 914h4V917h-4ZM2097 904h4V914h-4ZM2102 899h4V905h-4ZM2110 906h4V911h-4ZM2114 902h4V907h-4ZM2118 898h4V903h-4ZM2123 891h4V898h-4ZM2131 819h4V899h-4ZM2139 858h4V868h-4ZM2143 853h4V859h-4ZM2148 836h4V854h-4ZM2164 842h4V861h-4ZM2173 839h4V861h-4ZM2181 838h4V855h-4ZM2185 834h4V839h-4ZM2189 800h4V835h-4ZM2194 780h4V801h-4ZM2198 740h4V781h-4ZM2202 636h4V739h-4ZM2206 603h4V636h-4ZM2210 566h4V601h-4ZM2219 499h4V598h-4ZM2231 565h4V606h-4ZM2236 502h4V565h-4ZM2240 447h4V505h-4ZM2244 391h4V448h-4ZM2248 375h4V393h-4ZM2261 439h4V474h-4ZM2265 421h4V440h-4ZM2269 384h4V419h-4ZM2277 394h4V417h-4Z" fill="#53b987"/>
<path d="M34 153h4V187h-4ZM38 187h4V228h-4ZM43 225h4V234h-4ZM51 209h4V226h-4ZM64 185h4V214h-4ZM72 211h4V219h-4ZM101 174h4V180h-4ZM110 174h4V203h-4ZM114 201h4V212h-4ZM118 212h4V218h-4ZM135 194h4V202h-4ZM139 200h4V214h-4ZM147 200h4V219h-4ZM156 211h4V245h-4ZM160 244h4V250h-4ZM168 231h4V237h-4ZM172 235h4V239h-4ZM181 235h4V279h-4ZM185 280h4V316h-4ZM189 314h4V325h-4ZM197 312h4V335h-4ZM210 315h4V343h-4ZM214 339h4V416h-4ZM218 414h4V419h-4ZM223 418h4V451h-4ZM227 449h4V454h-4ZM231 453h4V460h-4ZM243 400h4V419h-4ZM248 418h4V442h-4ZM252 439h4V440h-4ZM256 437h4V541h-4ZM264 495h4V571h-4ZM273 562h4V670h-4ZM277 669h4V698h-4ZM281 698h4V710h-4ZM285 710h4V761h-4ZM294 725h4V788h-4ZM302 781h4V795h-4ZM306 793h4V910h-4ZM319 809h4V881h-4ZM323 880h4V893h-4ZM327 890h4V908h-4ZM336 881h4V883h-4ZM344 864h4V883h-4ZM348 882h4V903h-4ZM352 902h4V913h-4ZM369 709h4V753h-4ZM390 641h4V643h-4ZM394 642h4V695h-4ZM398 695h4V794h-4ZM407 719h4V773h-4ZM411 773h4V781h-4ZM415 780h4V800h-4ZM423 776h4V794h-4ZM428 795h4V796h-4ZM432 797h4V815h-4ZM444 811h4V831h-4ZM453 807h4V824h-4ZM461 817h4V832h-4ZM465 831h4V833h-4ZM474 824h4V829h-4ZM482 827h4V836h-4ZM486 835h4V873h-4ZM499 828h4V837h-4ZM507 830h4V853h-4ZM511 853h4V858h-4ZM515 857h4V861h-4ZM524 859h4V861h-4ZM541 828h4V830h-4ZM545 829h4V846h-4ZM549 844h4V846h-4ZM553 845h4V853h-4ZM557 853h4V869h-4ZM562 868h4V936h-4ZM566 936h4V977h-4ZM570 976h4V996h-4ZM578 977h4V983h-4ZM582 983h4V1005h-4ZM587 1003h4V1043h-4ZM591 1042h4V1046h-4ZM595 1045h4V1089h-4ZM603 972h4V995h-4ZM608 995h4V1003h-4ZM616 995h4V1011h-4ZM620 1010h4V1041h-4ZM628 1029h4V1039h-4ZM649 972h4V999h-4ZM654 998h4V1011h-4ZM658 1010h4V1023h-4ZM675 1009h4V1017h-4ZM683 1003h4V1007h-4ZM691 995h4V1011h-4ZM712 987h4V999h-4ZM729 956h4V975h-4ZM741 957h4V965h-4ZM750 943h4V960h-4ZM754 958h4V965h-4ZM762 954h4V957h-4ZM767 957h4V959h-4ZM771 959h4V965h-4ZM779 962h4V967h-4ZM783 966h4V991h-4ZM796 973h4V977h-4ZM800 977h4V990h-4ZM804 990h4V996h-4ZM813 988h4V994h-4ZM817 995h4V1000h-4ZM825 994h4V996h-4ZM829 995h4V1002h-4ZM846 994h4V997h-4ZM854 972h4V987h-4ZM863 979h4V987h-4ZM884 952h4V975h-4ZM892 971h4V977h-4ZM901 966h4V974h-4ZM909 972h4V974h-4ZM921 961h4V981h-4ZM942 956h4V972h-4ZM947 971h4V982h-4ZM955 976h4V986h-4ZM959 986h4V990h-4ZM967 983h4V985h-4ZM972 984h4V985h-4ZM984 979h4V984h-4ZM1001 935h4V941h-4ZM1009 934h4V936h-4ZM1043 687h4V755h-4ZM1055 710h4V761h-4ZM1064 748h4V767h-4ZM1068 764h4V767h-4ZM1072 767h4V811h-4ZM1089 751h4V756h-4ZM1093 754h4V769h-4ZM1097 769h4V791h-4ZM1101 790h4V791h-4ZM1106 790h4V798h-4ZM1110 797h4V804h-4ZM1118 773h4V794h-4ZM1126 772h4V793h-4ZM1147 758h4V770h-4ZM1152 768h4V770h-4ZM1164 739h4V763h-4ZM1173 745h4V746h-4ZM1181 686h4V699h-4ZM1185 697h4V709h-4ZM1189 709h4V772h-4ZM1198 747h4V758h-4ZM1202 758h4V772h-4ZM1206 773h4V795h-4ZM1219 786h4V811h-4ZM1223 810h4V879h-4ZM1239 836h4V858h-4ZM1244 857h4V872h-4ZM1248 871h4V895h-4ZM1256 869h4V874h-4ZM1269 846h4V858h-4ZM1286 809h4V823h-4ZM1290 822h4V834h-4ZM1294 833h4V861h-4ZM1306 822h4V838h-4ZM1315 823h4V838h-4ZM1327 835h4V838h-4ZM1336 824h4V828h-4ZM1348 820h4V822h-4ZM1365 802h4V807h-4ZM1369 806h4V836h-4ZM1373 836h4V841h-4ZM1386 824h4V835h-4ZM1403 826h4V829h-4ZM1411 827h4V836h-4ZM1424 824h4V829h-4ZM1428 828h4V843h-4ZM1436 834h4V838h-4ZM1440 837h4V839h-4ZM1445 838h4V845h-4ZM1449 843h4V880h-4ZM1457 870h4V878h-4ZM1474 860h4V864h-4ZM1478 865h4V869h-4ZM1495 837h4V849h-4ZM1503 846h4V856h-4ZM1512 856h4V866h-4ZM1524 853h4V861h-4ZM1528 861h4V871h-4ZM1532 870h4V879h-4ZM1537 879h4V887h-4ZM1545 875h4V880h-4ZM1553 871h4V873h-4ZM1558 871h4V876h-4ZM1566 863h4V871h-4ZM1574 869h4V881h-4ZM1591 847h4V856h-4ZM1599 853h4V855h-4ZM1604 854h4V867h-4ZM1612 859h4V860h-4ZM1633 771h4V804h-4ZM1637 804h4V810h-4ZM1641 808h4V815h-4ZM1654 799h4V808h-4ZM1658 809h4V821h-4ZM1666 813h4V833h-4ZM1675 830h4V853h-4ZM1687 824h4V849h-4ZM1691 848h4V854h-4ZM1700 842h4V853h-4ZM1721 826h4V841h-4ZM1738 829h4V857h-4ZM1742 857h4V858h-4ZM1746 859h4V864h-4ZM1750 863h4V874h-4ZM1754 875h4V876h-4ZM1763 869h4V879h-4ZM1767 879h4V893h-4ZM1771 891h4V914h-4ZM1779 890h4V891h-4ZM1784 889h4V901h-4ZM1804 876h4V879h-4ZM1813 872h4V879h-4ZM1817 877h4V880h-4ZM1838 865h4V881h-4ZM1842 880h4V892h-4ZM1863 881h4V882h-4ZM1867 881h4V883h-4ZM1884 870h4V876h-4ZM1888 875h4V876h-4ZM1897 872h4V878h-4ZM1901 876h4V882h-4ZM1909 877h4V885h-4ZM1930 864h4V867h-4ZM1934 867h4V868h-4ZM1938 868h4V879h-4ZM1955 868h4V879h-4ZM1959 877h4V882h-4ZM1963 880h4V884h-4ZM1968 883h4V892h-4ZM1976 884h4V901h-4ZM1984 890h4V895h-4ZM1989 894h4V896h-4ZM1993 895h4V897h-4ZM1997 897h4V902h-4ZM2001 901h4V903h-4ZM2014 893h4V895h-4ZM2022 889h4V895h-4ZM2026 895h4V899h-4ZM2030 898h4V904h-4ZM2039 900h4V917h-4ZM2043 916h4V926h-4ZM2047 926h4V931h-4ZM2056 925h4V929h-4ZM2068 920h4V928h-4ZM2085 910h4V915h-4ZM2089 913h4V918h-4ZM2106 899h4V911h-4ZM2127 891h4V900h-4ZM2135 819h4V869h-4ZM2152 836h4V849h-4ZM2156 848h4V854h-4ZM2160 853h4V859h-4ZM2169 842h4V861h-4ZM2177 839h4V855h-4ZM2215 564h4V594h-4ZM2223 496h4V529h-4ZM2227 529h4V606h-4ZM2252 375h4V424h-4ZM2256 422h4V474h-4ZM2273 384h4V417h-4Z" fill="#eb4d5c"/>
</g>
<path d="M14 375H2474" stroke="#38761d" stroke-width="2" fill="none"/>
<path d="M14 394H2474" stroke="#53b987" stroke-width="2" stroke-dasharray="2 4" fill="none"/>
<path d="M14 797H2474" stroke="#ff9800" stroke-width="2" fill="none"/>
<path d="M14 857H2474" stroke="#ff3b3b" stroke-width="2" fill="none"/>
<path d="M14 863H2474" stroke="#9000ff" stroke-width="2" fill="none"/>
<path d="M14 908H2474" stroke="#3d7be8" stroke-width="2" stroke-dasharray="2 4" fill="none"/>
<path d="M14 1013H2474" stroke="#0000ff" stroke-width="2" stroke-dasharray="10 12" fill="none"/>
<path d="M14 1109H2474" stroke="#0000ff" stroke-width="2" stroke-dasharray="10 12" fill="none"/>
<path d="M16.3 1377.3L20.5 1366.2L24.7 1356.4L28.8 1343.9L33 1331.3L37.2 1341.1L41.4 1359.2L45.6 1381.5L49.8 1377.3L53.9 1372.6L58.1 1362L62.3 1345.3L66.5 1339.7L70.7 1341.1L74.9 1359.2L79.1 1367.6L83.2 1368.1L87.4 1363.4L91.6 1342.5L95.8 1286.7L100 1221.3L104.2 1223.5L108.4 1234.6L112.5 1290.8L116.7 1332.7L120.9 1381.7L125.1 1369.6L129.3 1347.7L133.5 1324.3L137.6 1322.1L141.8 1343.9L146 1351.2L150.2 1365.5L154.4 1356.5L158.6 1372.7L162.8 1372.7L166.9 1359L171.1 1342.9L175.3 1328.7L179.5 1332.8L183.7 1348.9L187.9 1363L192.1 1381.7L196.2 1372.7L200.4 1370.5L204.6 1366.1L208.8 1355.3L213 1347.6L217.2 1352L221.3 1371.8L225.5 1381.7L229.7 1381.7L233.9 1381.7L238.1 1330L242.3 1273.8L246.5 1226.1L250.6 1239.6L254.8 1255.6L259 1294.4L263.2 1291L267.4 1308.9L271.6 1290.1L275.8 1325.2L279.9 1345.1L284.1 1372.2L288.3 1378.8L292.5 1361.8L296.7 1352.2L300.9 1334.9L305 1337.9L309.2 1348.1L313.4 1364.7L317.6 1324.9L321.8 1283.3L326 1244.8L330.2 1264.4L334.3 1256.7L338.5 1246.3L342.7 1226.7L346.9 1224.6L351.1 1227.9L355.3 1240L359.5 1235.3L363.6 1225.6L367.8 1213.4L372 1222.1L376.2 1229.8L380.4 1230.3L384.6 1221.5L388.7 1213.9L392.9 1213.8L397.1 1226L401.3 1255.6L405.5 1272.1L409.7 1285L413.9 1286.8L418 1325.2L422.2 1347.2L426.4 1368.2L430.6 1366.1L434.8 1375.1L439 1378.2L443.2 1379L447.3 1379L451.5 1363.2L455.7 1356.2L459.9 1341.1L464.1 1349.5L468.3 1352.4L472.4 1344.2L476.6 1335.7L480.8 1317L485 1334.3L489.2 1350.7L493.4 1350.2L497.6 1300.1L501.7 1252.2L505.9 1222L510.1 1245.2L514.3 1264.8L518.5 1295.6L522.7 1300.3L526.9 1302.3L531 1288.1L535.2 1260.2L539.4 1230.3L543.6 1216.7L547.8 1244.3L552 1273.3L556.1 1309.5L560.3 1337.9L564.5 1365.1L568.7 1381.7L572.9 1381.7L577.1 1370.1L581.3 1359.9L585.4 1354.1L589.6 1365.7L593.8 1375.9L598 1381.7L602.2 1329.8L606.4 1283.2L610.6 1235.3L614.7 1235.5L618.9 1235L623.1 1243.4L627.3 1249.7L631.5 1254.5L635.7 1243L639.8 1232.7L644 1219.5L648.2 1214.3L652.4 1221.4L656.6 1245.4L660.8 1277.1L665 1295.6L669.1 1296L673.3 1283L677.5 1282.4L681.7 1270.7L685.9 1268.6L690.1 1249.9L694.3 1267.7L698.4 1275.6L702.6 1282.1L706.8 1251.1L711 1226.5L715.2 1233.1L719.4 1236.6L723.5 1236.6L727.7 1216.9L731.9 1234L736.1 1251.4L740.3 1257.3L744.5 1252.3L748.7 1234.9L752.8 1249.3L757 1263.6L761.2 1284.8L765.4 1286.2L769.6 1281.8L773.8 1306.6L778 1332.5L782.1 1363.2L786.3 1373.2L790.5 1367.3L794.7 1346.9L798.9 1330.5L803.1 1342.5L807.2 1362.9L811.4 1364.8L815.6 1361.6L819.8 1361.6L824 1365.5L828.2 1362.3L832.4 1362.3L836.5 1366.7L840.7 1352.3L844.9 1325.9L849.1 1313.9L853.3 1281L857.5 1276.8L861.7 1251.7L865.8 1277.9L870 1252.9L874.2 1240L878.4 1213.8L882.6 1213.4L886.8 1242.3L890.9 1268.4L895.1 1304L899.3 1297.8L903.5 1306L907.7 1313.8L911.9 1339.3L916.1 1329.2L920.2 1310L924.4 1317.9L928.6 1347.7L932.8 1369.1L937 1345.6L941.2 1291.6L945.4 1284.8L949.5 1308.3L953.7 1353L957.9 1370.4L962.1 1370.4L966.3 1370.6L970.5 1360.5L974.6 1351.9L978.8 1351.2L983 1342.4L987.2 1338.2L991.4 1328L995.6 1301.9L999.8 1258.6L1003.9 1230.7L1008.1 1221.4L1012.3 1226.7L1016.5 1222.5L1020.7 1220.9L1024.9 1215.5L1029.1 1213.4L1033.2 1213.4L1037.4 1213.4L1041.6 1213.4L1045.8 1237.6L1050 1263.6L1054.2 1295.6L1058.3 1326.4L1062.5 1353.1L1066.7 1377.2L1070.9 1378.3L1075.1 1381.7L1079.3 1381.2L1083.5 1373.2L1087.6 1361.5L1091.8 1352L1096 1354L1100.2 1365.7L1104.4 1375.8L1108.6 1381.7L1112.8 1381.7L1116.9 1361.5L1121.1 1356.4L1125.3 1330.5L1129.5 1349.2L1133.7 1340.5L1137.9 1352.1L1142 1328.6L1146.2 1306L1150.4 1291.5L1154.6 1284.5L1158.8 1265.7L1163 1238.4L1167.2 1252.1L1171.3 1268.4L1175.5 1289L1179.7 1251.2L1183.9 1245.9L1188.1 1251.1L1192.3 1307.2L1196.5 1338.9L1200.6 1362.5L1204.8 1362.5L1209 1375L1213.2 1377.8L1217.4 1373.6L1221.6 1373.6L1225.7 1377.5L1229.9 1377.6L1234.1 1371.8L1238.3 1355.2L1242.5 1346.8L1246.7 1339.9L1250.9 1352.4L1255 1341.4L1259.2 1330.1L1263.4 1292L1267.6 1262.4L1271.8 1241.4L1276 1227.6L1280.2 1224.6L1284.3 1213.4L1288.5 1222.5L1292.7 1238.3L1296.9 1269.1L1301.1 1284.8L1305.3 1275.4L1309.4 1265.6L1313.6 1248.2L1317.8 1269.3L1322 1274L1326.2 1291.9L1330.4 1292.1L1334.6 1275.5L1338.7 1263.9L1342.9 1236.2L1347.1 1227.2L1351.3 1215.9L1355.5 1215.9L1359.7 1215.9L1363.9 1213.4L1368 1223.6L1372.2 1279.7L1376.4 1335.8L1380.6 1365.5L1384.8 1341.4L1389 1332.2L1393.1 1330.6L1397.3 1333.6L1401.5 1321.2L1405.7 1320.2L1409.9 1317.9L1414.1 1333.7L1418.3 1330.1L1422.4 1321.4L1426.6 1288L1430.8 1310.4L1435 1315.5L1439.2 1336.1L1443.4 1322.7L1447.6 1349.7L1451.7 1368.3L1455.9 1367.2L1460.1 1358.9L1464.3 1329.2L1468.5 1317L1472.7 1290L1476.8 1289.2L1481 1287.2L1485.2 1275.1L1489.4 1249.4L1493.6 1221.9L1497.8 1224.7L1502 1233.5L1506.1 1252.2L1510.3 1261L1514.5 1284.2L1518.7 1312.8L1522.9 1310.3L1527.1 1311.9L1531.3 1313.9L1535.4 1352.4L1539.6 1374.9L1543.8 1362.7L1548 1349.2L1552.2 1316.8L1556.4 1303.9L1560.5 1289.3L1564.7 1266L1568.9 1256.7L1573.1 1237.5L1577.3 1269.6L1581.5 1276.5L1585.7 1274.3L1589.8 1241.9L1594 1231.3L1598.2 1236.3L1602.4 1249.3L1606.6 1273.1L1610.8 1284.2L1615 1294.8L1619.1 1269.9L1623.3 1247.2L1627.5 1223.5L1631.7 1213.4L1635.9 1238.3L1640.1 1269.8L1644.2 1304.8L1648.4 1309.1L1652.6 1306.3L1656.8 1305.8L1661 1319.7L1665.2 1334.3L1669.4 1355.9L1673.5 1366.4L1677.7 1379.3L1681.9 1373.2L1686.1 1360.4L1690.3 1354.4L1694.5 1358.5L1698.7 1360.3L1702.8 1361.9L1707 1349.5L1711.2 1342.1L1715.4 1313.2L1719.6 1291.6L1723.8 1282.4L1727.9 1265.3L1732.1 1250.3L1736.3 1225.3L1740.5 1275.7L1744.7 1326.8L1748.9 1381.7L1753.1 1381.7L1757.2 1381.7L1761.4 1367.1L1765.6 1364.3L1769.8 1364.3L1774 1379L1778.2 1357.6L1782.4 1333.8L1786.5 1316L1790.7 1318.4L1794.9 1286.1L1799.1 1247.8L1803.3 1213.4L1807.5 1217.3L1811.6 1217.3L1815.8 1223.7L1820 1227.7L1824.2 1227.7L1828.4 1221.2L1832.6 1213.4L1836.8 1213.4L1840.9 1240.5L1845.1 1287.8L1849.3 1330.2L1853.5 1340.2L1857.7 1320L1861.9 1300L1866.1 1294.4L1870.2 1301L1874.4 1313L1878.6 1291.5L1882.8 1260.6L1887 1239.6L1891.2 1245.1L1895.3 1242.4L1899.5 1247.9L1903.7 1274.5L1907.9 1292.7L1912.1 1329.8L1916.3 1333.4L1920.5 1336.8L1924.6 1280.7L1928.8 1235.1L1933 1220.2L1937.2 1228.9L1941.4 1272.4L1945.6 1297.8L1949.8 1309.9L1953.9 1278.5L1958.1 1291.1L1962.3 1323.4L1966.5 1367.4L1970.7 1378.7L1974.9 1364.8L1979 1364.8L1983.2 1346L1987.4 1348L1991.6 1334.7L1995.8 1341.5L2000 1351.6L2004.2 1361.6L2008.3 1348.9L2012.5 1305.1L2016.7 1260.3L2020.9 1228.9L2025.1 1236.7L2029.3 1255.8L2033.5 1298.4L2037.6 1305.1L2041.8 1334.1L2046 1347.6L2050.2 1381.7L2054.4 1364.4L2058.6 1352.8L2062.7 1327.5L2066.9 1308.9L2071.1 1297.5L2075.3 1289.2L2079.5 1269L2083.7 1236L2087.9 1220.9L2092 1233L2096.2 1238.4L2100.4 1230.8L2104.6 1218.8L2108.8 1230.4L2113 1241.5L2117.2 1247.8L2121.3 1230.8L2125.5 1219.7L2129.7 1229.8L2133.9 1229.8L2138.1 1262.9L2142.3 1275.6L2146.4 1302.9L2150.6 1292.8L2154.8 1297.2L2159 1306.9L2163.2 1323.9L2167.4 1325.6L2171.6 1342.2L2175.7 1343.6L2179.9 1362.2L2184.1 1352.8L2188.3 1355.6L2192.5 1301.8L2196.7 1257.6L2200.9 1213.4L2205 1213.4L2209.2 1213.4L2213.4 1213.4L2217.6 1225.6L2221.8 1229.5L2226 1244.1L2230.1 1269.3L2234.3 1297.6L2238.5 1311.8L2242.7 1297.5L2246.9 1288L2251.1 1280.1L2255.3 1296.7L2259.4 1330.2L2263.6 1359.6L2267.8 1366.7L2272 1350L2276.2 1352.5L2280.4 1350.2" stroke="#7cc6fe" stroke-width="2" fill="none" stroke-linejoin="round"/>
<path d="M16.3 1348.3L20.5 1364.4L24.7 1366.6L28.8 1355.5L33 1343.9L37.2 1338.8L41.4 1343.9L45.6 1360.6L49.8 1372.7L53.9 1377.1L58.1 1370.6L62.3 1359.9L66.5 1349L70.7 1342L74.9 1346.7L79.1 1356L83.2 1365L87.4 1366.4L91.6 1358L95.8 1330.9L100 1283.5L104.2 1243.8L108.4 1226.5L112.5 1249.6L116.7 1286L120.9 1335.1L125.1 1361.3L129.3 1366.3L133.5 1347.2L137.6 1331.4L141.8 1330.1L146 1339.1L150.2 1353.5L154.4 1357.7L158.6 1364.9L162.8 1367.3L166.9 1368.2L171.1 1358.2L175.3 1343.5L179.5 1334.8L183.7 1336.8L187.9 1348.2L192.1 1364.5L196.2 1372.5L200.4 1375L204.6 1369.8L208.8 1364L213 1356.3L217.2 1351.6L221.3 1357.1L225.5 1368.5L229.7 1378.4L233.9 1381.7L238.1 1364.5L242.3 1328.5L246.5 1276.6L250.6 1246.5L254.8 1240.5L259 1263.2L263.2 1280.3L267.4 1298.1L271.6 1296.6L275.8 1308.1L279.9 1320.1L284.1 1347.5L288.3 1365.4L292.5 1370.9L296.7 1364.3L300.9 1349.6L305 1341.6L309.2 1340.3L313.4 1350.2L317.6 1345.9L321.8 1324.3L326 1284.3L330.2 1264.2L334.3 1255.3L338.5 1255.8L342.7 1243.2L346.9 1232.5L351.1 1226.4L355.3 1230.8L359.5 1234.4L363.6 1233.6L367.8 1224.7L372 1220.4L376.2 1221.8L380.4 1227.4L384.6 1227.2L388.7 1221.9L392.9 1216.4L397.1 1217.9L401.3 1231.8L405.5 1251.3L409.7 1270.9L413.9 1281.3L418 1299L422.2 1319.7L426.4 1346.9L430.6 1360.5L434.8 1369.8L439 1373.2L443.2 1377.4L447.3 1378.7L451.5 1373.7L455.7 1366.1L459.9 1353.5L464.1 1348.9L468.3 1347.7L472.4 1348.7L476.6 1344.1L480.8 1332.3L485 1329L489.2 1334L493.4 1345.1L497.6 1333.7L501.7 1300.8L505.9 1258.1L510.1 1239.8L514.3 1244L518.5 1268.6L522.7 1286.9L526.9 1299.4L531 1296.9L535.2 1283.5L539.4 1259.5L543.6 1235.7L547.8 1230.4L552 1244.8L556.1 1275.7L560.3 1306.9L564.5 1337.5L568.7 1361.6L572.9 1376.2L577.1 1377.8L581.3 1370.6L585.4 1361.4L589.6 1359.9L593.8 1365.2L598 1374.4L602.2 1362.5L606.4 1331.6L610.6 1282.8L614.7 1251.3L618.9 1235.3L623.1 1238L627.3 1242.7L631.5 1249.2L635.7 1249.1L639.8 1243.4L644 1231.7L648.2 1222.2L652.4 1218.4L656.6 1227L660.8 1248L665 1272.7L669.1 1289.5L673.3 1291.5L677.5 1287.1L681.7 1278.7L685.9 1273.9L690.1 1263.1L694.3 1262.1L698.4 1264.4L702.6 1275.1L706.8 1269.6L711 1253.2L715.2 1236.9L719.4 1232L723.5 1235.4L727.7 1230L731.9 1229.2L736.1 1234.1L740.3 1247.6L744.5 1253.6L748.7 1248.2L752.8 1245.5L757 1249.3L761.2 1265.9L765.4 1278.2L769.6 1284.3L773.8 1291.6L778 1307L782.1 1334.1L786.3 1356.3L790.5 1367.9L794.7 1362.5L798.9 1348.2L803.1 1340L807.2 1345.3L811.4 1356.7L815.6 1363.1L819.8 1362.7L824 1362.9L828.2 1363.2L832.4 1363.4L836.5 1363.8L840.7 1360.4L844.9 1348.3L849.1 1330.7L853.3 1307L857.5 1290.6L861.7 1269.8L865.8 1268.8L870 1260.8L874.2 1256.9L878.4 1235.6L882.6 1222.4L886.8 1223.2L890.9 1241.4L895.1 1271.6L899.3 1290.1L903.5 1302.6L907.7 1305.9L911.9 1319.7L916.1 1327.4L920.2 1326.2L924.4 1319L928.6 1325.2L932.8 1344.9L937 1354.2L941.2 1335.4L945.4 1307.3L949.5 1294.9L953.7 1315.4L957.9 1343.9L962.1 1364.6L966.3 1370.5L970.5 1367.2L974.6 1361L978.8 1354.5L983 1348.5L987.2 1343.9L991.4 1336.2L995.6 1322.7L999.8 1296.2L1003.9 1263.7L1008.1 1236.9L1012.3 1226.3L1016.5 1223.5L1020.7 1223.4L1024.9 1219.6L1029.1 1216.6L1033.2 1214.1L1037.4 1213.4L1041.6 1213.4L1045.8 1221.4L1050 1238.2L1054.2 1265.6L1058.3 1295.2L1062.5 1325L1066.7 1352.2L1070.9 1369.6L1075.1 1379.1L1079.3 1380.4L1083.5 1378.7L1087.6 1372L1091.8 1362.2L1096 1355.8L1100.2 1357.3L1104.4 1365.2L1108.6 1374.4L1112.8 1379.7L1116.9 1375L1121.1 1366.5L1125.3 1349.5L1129.5 1345.4L1133.7 1340.1L1137.9 1347.3L1142 1340.4L1146.2 1328.9L1150.4 1308.7L1154.6 1294L1158.8 1280.6L1163 1262.9L1167.2 1252.1L1171.3 1253L1175.5 1269.8L1179.7 1269.5L1183.9 1262L1188.1 1249.4L1192.3 1268.1L1196.5 1299.1L1200.6 1336.2L1204.8 1354.7L1209 1366.7L1213.2 1371.8L1217.4 1375.5L1221.6 1375L1225.7 1374.9L1229.9 1376.3L1234.1 1375.6L1238.3 1368.2L1242.5 1357.9L1246.7 1347.3L1250.9 1346.4L1255 1344.6L1259.2 1341.3L1263.4 1321.2L1267.6 1294.8L1271.8 1265.3L1276 1243.8L1280.2 1231.2L1284.3 1221.9L1288.5 1220.2L1292.7 1224.7L1296.9 1243.3L1301.1 1264.1L1305.3 1276.4L1309.4 1275.3L1313.6 1263.1L1317.8 1261.1L1322 1263.8L1326.2 1278.4L1330.4 1286L1334.6 1286.5L1338.7 1277.2L1342.9 1258.5L1347.1 1242.4L1351.3 1226.4L1355.5 1219.7L1359.7 1215.9L1363.9 1215L1368 1217.6L1372.2 1238.9L1376.4 1279.7L1380.6 1327L1384.8 1347.6L1389 1346.4L1393.1 1334.7L1397.3 1332.1L1401.5 1328.5L1405.7 1325L1409.9 1319.7L1414.1 1323.9L1418.3 1327.2L1422.4 1328.4L1426.6 1313.2L1430.8 1306.6L1435 1304.6L1439.2 1320.7L1443.4 1324.7L1447.6 1336.1L1451.7 1346.9L1455.9 1361.7L1460.1 1364.8L1464.3 1351.8L1468.5 1335L1472.7 1312.1L1476.8 1298.7L1481 1288.8L1485.2 1283.9L1489.4 1270.6L1493.6 1248.8L1497.8 1232L1502 1226.7L1506.1 1236.8L1510.3 1248.9L1514.5 1265.8L1518.7 1286L1522.9 1302.4L1527.1 1311.7L1531.3 1312L1535.4 1326.1L1539.6 1347.1L1543.8 1363.3L1548 1362.3L1552.2 1342.9L1556.4 1323.3L1560.5 1303.3L1564.7 1286.4L1568.9 1270.7L1573.1 1253.4L1577.3 1254.6L1581.5 1261.2L1585.7 1273.5L1589.8 1264.2L1594 1249.2L1598.2 1236.5L1602.4 1239L1606.6 1252.9L1610.8 1268.9L1615 1284L1619.1 1283L1623.3 1270.6L1627.5 1246.9L1631.7 1228L1635.9 1225.1L1640.1 1240.5L1644.2 1271L1648.4 1294.6L1652.6 1306.8L1656.8 1307.1L1661 1310.6L1665.2 1319.9L1669.4 1336.6L1673.5 1352.2L1677.7 1367.2L1681.9 1373L1686.1 1370.9L1690.3 1362.7L1694.5 1357.8L1698.7 1357.7L1702.8 1360.2L1707 1357.2L1711.2 1351.2L1715.4 1334.9L1719.6 1315.6L1723.8 1295.7L1727.9 1279.8L1732.1 1266L1736.3 1247L1740.5 1250.4L1744.7 1275.9L1748.9 1328.1L1753.1 1363.4L1757.2 1381.7L1761.4 1376.8L1765.6 1371L1769.8 1365.2L1774 1369.2L1778.2 1367L1782.4 1356.8L1786.5 1335.8L1790.7 1322.7L1794.9 1306.8L1799.1 1284.1L1803.3 1249.1L1807.5 1226.1L1811.6 1216L1815.8 1219.4L1820 1222.9L1824.2 1226.3L1828.4 1225.5L1832.6 1220.7L1836.8 1216L1840.9 1222.4L1845.1 1247.2L1849.3 1286.2L1853.5 1319.4L1857.7 1330.1L1861.9 1320.1L1866.1 1304.8L1870.2 1298.5L1874.4 1302.8L1878.6 1301.8L1882.8 1288.4L1887 1263.9L1891.2 1248.5L1895.3 1242.4L1899.5 1245.1L1903.7 1254.9L1907.9 1271.7L1912.1 1299L1916.3 1318.6L1920.5 1333.3L1924.6 1317L1928.8 1284.2L1933 1245.4L1937.2 1228.1L1941.4 1240.5L1945.6 1266.4L1949.8 1293.4L1953.9 1295.4L1958.1 1293.1L1962.3 1297.6L1966.5 1327.3L1970.7 1356.5L1974.9 1370.3L1979 1369.4L1983.2 1358.5L1987.4 1352.9L1991.6 1342.9L1995.8 1341.4L2000 1342.6L2004.2 1351.6L2008.3 1354L2012.5 1338.5L2016.7 1304.8L2020.9 1264.8L2025.1 1242L2029.3 1240.5L2033.5 1263.6L2037.6 1286.4L2041.8 1312.6L2046 1329L2050.2 1354.5L2054.4 1364.6L2058.6 1366.3L2062.7 1348.2L2066.9 1329.8L2071.1 1311.3L2075.3 1298.5L2079.5 1285.2L2083.7 1264.7L2087.9 1242L2092 1230L2096.2 1230.8L2100.4 1234.1L2104.6 1229.3L2108.8 1226.7L2113 1230.2L2117.2 1239.9L2121.3 1240L2125.5 1232.8L2129.7 1226.8L2133.9 1226.4L2138.1 1240.8L2142.3 1256.1L2146.4 1280.5L2150.6 1290.4L2154.8 1297.6L2159 1298.9L2163.2 1309.3L2167.4 1318.8L2171.6 1330.6L2175.7 1337.1L2179.9 1349.3L2184.1 1352.9L2188.3 1356.9L2192.5 1336.7L2196.7 1305L2200.9 1257.6L2205 1228.1L2209.2 1213.4L2213.4 1213.4L2217.6 1217.5L2221.8 1222.8L2226 1233.1L2230.1 1247.6L2234.3 1270.4L2238.5 1292.9L2242.7 1302.3L2246.9 1299.1L2251.1 1288.5L2255.3 1288.3L2259.4 1302.3L2263.6 1328.8L2267.8 1352.2L2272 1358.8L2276.2 1356.4L2280.4 1350.9" stroke="#ffb074" stroke-width="2" fill="none" stroke-linejoin="round"/>
<path d="M14 1247H2474M14 1348H2474" stroke="#4a4a4a" stroke-width="2" stroke-dasharray="10 12" fill="none"/>
<rect x="14" y="1248" width="2460" height="101" fill="#ab43f7" fill-opacity="0.25"/>
<path d="M15 1466V1469M337 1467V1469M342 1465V1469M346 1463V1469M350 1463V1469M354 1462V1469M358 1461V1469M362 1454V1469M367 1450V1469M371 1449V1469M375 1448V1469M379 1447V1469M383 1447V1469M388 1445V1469M484 1467V1469M496 1467V1469M501 1467V1469M505 1467V1469M522 1467V1469M526 1467V1469M530 1467V1469M534 1466V1469M538 1466V1469M542 1465V1469M614 1467V1469M618 1467V1469M626 1467V1469M630 1467V1469M635 1466V1469M639 1465V1469M643 1465V1469M647 1463V1469M651 1463V1469M672 1464V1469M681 1464V1469M689 1464V1469M706 1465V1469M710 1464V1469M718 1465V1469M722 1464V1469M727 1464V1469M739 1464V1469M748 1464V1469M852 1467V1469M856 1467V1469M861 1467V1469M869 1467V1469M873 1466V1469M877 1466V1469M881 1466V1469M898 1467V1469M915 1467V1469M919 1467V1469M940 1467V1469M994 1467V1469M999 1466V1469M1003 1466V1469M1007 1465V1469M1011 1465V1469M1015 1465V1469M1020 1464V1469M1024 1462V1469M1028 1461V1469M1032 1461V1469M1036 1459V1469M1040 1455V1469M1179 1466V1469M1183 1466V1469M1275 1467V1469M1279 1465V1469M1283 1464V1469M1287 1464V1469M1304 1466V1469M1312 1466V1469M1333 1466V1469M1338 1466V1469M1342 1466V1469M1346 1466V1469M1359 1466V1469M1363 1466V1469M1384 1467V1469M1488 1467V1469M1492 1467V1469M1497 1467V1469M1501 1467V1469M1522 1467V1469M1564 1467V1469M1568 1467V1469M1572 1467V1469M1585 1467V1469M1589 1467V1469M1593 1466V1469M1597 1466V1469M1618 1467V1469M1622 1466V1469M1626 1466V1469M1631 1464V1469M1635 1463V1469M1735 1467V1469M1802 1467V1469M1806 1467V1469M1810 1467V1469M1815 1467V1469M1819 1467V1469M1823 1466V1469M1827 1466V1469M1831 1466V1469M1836 1466V1469M1857 1467V1469M1861 1467V1469M1877 1467V1469M1882 1467V1469M1886 1467V1469M1894 1467V1469M1907 1467V1469M1919 1467V1469M1923 1467V1469M1928 1467V1469M1932 1467V1469M1936 1467V1469M1949 1467V1469M1953 1467V1469M2020 1467V1469M2024 1467V1469M2083 1467V1469M2087 1467V1469M2091 1467V1469M2095 1467V1469M2099 1467V1469M2103 1466V1469M2116 1466V1469M2120 1466V1469M2124 1466V1469M2133 1464V1469M2149 1464V1469M2175 1467V1469M2183 1467V1469M2187 1467V1469M2191 1466V1469M2196 1465V1469M2200 1463V1469M2204 1458V1469M2208 1455V1469M2212 1452V1469M2221 1450V1469M2242 1457V1469M2246 1455V1469M2250 1454V1469" stroke="#0e9d8d" stroke-width="2" fill="none"/>
<path d="M19 1467V1469M24 1467V1469M392 1445V1469M396 1448V1469M400 1454V1469M404 1456V1469M409 1459V1469M413 1462V1469M417 1465V1469M421 1466V1469M425 1467V1469M429 1467V1469M509 1467V1469M513 1467V1469M517 1467V1469M547 1465V1469M551 1466V1469M555 1466V1469M559 1467V1469M622 1467V1469M655 1463V1469M660 1464V1469M664 1464V1469M668 1464V1469M676 1464V1469M685 1464V1469M693 1464V1469M697 1465V1469M701 1465V1469M714 1465V1469M731 1464V1469M735 1464V1469M743 1464V1469M752 1465V1469M756 1465V1469M760 1466V1469M764 1466V1469M768 1466V1469M773 1467V1469M777 1467V1469M781 1467V1469M865 1467V1469M886 1466V1469M890 1467V1469M894 1467V1469M902 1467V1469M907 1467V1469M911 1467V1469M923 1467V1469M944 1467V1469M1045 1455V1469M1049 1455V1469M1053 1455V1469M1057 1458V1469M1061 1460V1469M1066 1463V1469M1070 1465V1469M1187 1466V1469M1292 1465V1469M1296 1466V1469M1300 1466V1469M1308 1466V1469M1317 1466V1469M1321 1466V1469M1325 1466V1469M1329 1467V1469M1350 1466V1469M1354 1466V1469M1367 1466V1469M1371 1467V1469M1375 1467V1469M1505 1467V1469M1509 1467V1469M1513 1467V1469M1518 1467V1469M1526 1467V1469M1530 1467V1469M1576 1467V1469M1580 1467V1469M1601 1466V1469M1605 1467V1469M1610 1467V1469M1614 1467V1469M1639 1464V1469M1643 1464V1469M1647 1465V1469M1651 1465V1469M1656 1466V1469M1660 1467V1469M1664 1467V1469M1840 1466V1469M1844 1467V1469M1848 1467V1469M1852 1467V1469M1865 1467V1469M1869 1467V1469M1873 1467V1469M1890 1467V1469M1898 1467V1469M1903 1467V1469M1911 1467V1469M1915 1467V1469M1940 1467V1469M1944 1467V1469M1957 1467V1469M2028 1467V1469M2108 1466V1469M2112 1466V1469M2129 1466V1469M2137 1464V1469M2141 1464V1469M2145 1464V1469M2154 1464V1469M2158 1465V1469M2162 1466V1469M2166 1466V1469M2170 1467V1469M2179 1467V1469M2216 1452V1469M2225 1451V1469M2229 1455V1469M2233 1458V1469M2237 1458V1469M2254 1457V1469M2258 1461V1469M2262 1464V1469M2267 1465V1469M2271 1465V1469M2275 1467V1469" stroke="#acded7" stroke-width="2" fill="none"/>
<path d="M28 1469V1467M32 1469V1467M36 1470V1467M40 1472V1467M44 1474V1467M49 1475V1467M53 1475V1467M65 1474V1467M74 1474V1467M111 1469V1467M116 1470V1467M120 1471V1467M141 1470V1467M149 1470V1467M157 1471V1467M162 1472V1467M183 1472V1467M187 1474V1467M191 1475V1467M199 1475V1467M216 1475V1467M220 1476V1467M224 1477V1467M229 1478V1467M258 1472V1467M266 1474V1467M270 1474V1467M275 1478V1467M279 1480V1467M283 1481V1467M287 1483V1467M296 1481V1467M308 1481V1467M312 1481V1467M434 1469V1467M438 1470V1467M442 1470V1467M446 1470V1467M455 1470V1467M463 1469V1467M488 1469V1467M563 1470V1467M568 1473V1467M572 1475V1467M576 1476V1467M584 1476V1467M588 1477V1467M593 1477V1467M597 1478V1467M785 1469V1467M789 1469V1467M794 1469V1467M798 1469V1467M802 1470V1467M806 1470V1467M814 1470V1467M819 1470V1467M927 1469V1467M932 1469V1467M948 1469V1467M953 1469V1467M957 1469V1467M961 1469V1467M1074 1469V1467M1078 1470V1467M1082 1471V1467M1091 1470V1467M1095 1471V1467M1099 1472V1467M1103 1473V1467M1107 1474V1467M1112 1474V1467M1120 1473V1467M1128 1473V1467M1166 1469V1467M1191 1469V1467M1195 1469V1467M1199 1470V1467M1204 1471V1467M1208 1473V1467M1212 1473V1467M1216 1473V1467M1220 1474V1467M1225 1477V1467M1229 1477V1467M1250 1475V1467M1379 1469V1467M1388 1469V1467M1392 1469V1467M1413 1469V1467M1425 1469V1467M1430 1469V1467M1434 1469V1467M1438 1469V1467M1442 1469V1467M1446 1469V1467M1451 1470V1467M1455 1471V1467M1459 1471V1467M1534 1469V1467M1538 1469V1467M1547 1469V1467M1668 1469V1467M1672 1469V1467M1677 1470V1467M1681 1470V1467M1689 1471V1467M1693 1471V1467M1702 1471V1467M1723 1469V1467M1739 1469V1467M1744 1469V1467M1748 1470V1467M1752 1470V1467M1756 1471V1467M1764 1471V1467M1769 1471V1467M1773 1472V1467M1961 1469V1467M1965 1469V1467M1970 1469V1467M1978 1469V1467M1999 1469V1467M2032 1469V1467M2041 1469V1467M2045 1469V1467M2049 1470V1467M2057 1470V1467M2279 1469V1467" stroke="#ef5350" stroke-width="2" fill="none"/>
<path d="M57 1475V1467M61 1474V1467M70 1474V1467M78 1474V1467M82 1473V1467M86 1472V1467M90 1471V1467M95 1470V1467M99 1469V1467M103 1469V1467M107 1469V1467M124 1471V1467M128 1471V1467M132 1470V1467M136 1470V1467M145 1470V1467M153 1470V1467M166 1472V1467M170 1471V1467M174 1471V1467M178 1471V1467M195 1475V1467M203 1475V1467M208 1474V1467M212 1473V1467M233 1477V1467M237 1475V1467M241 1472V1467M245 1471V1467M249 1470V1467M254 1470V1467M262 1472V1467M291 1481V1467M300 1480V1467M304 1479V1467M316 1476V1467M321 1475V1467M325 1474V1467M329 1472V1467M333 1470V1467M450 1470V1467M459 1469V1467M467 1469V1467M471 1469V1467M475 1469V1467M480 1469V1467M492 1469V1467M580 1476V1467M601 1474V1467M605 1471V1467M609 1470V1467M810 1470V1467M823 1470V1467M827 1470V1467M831 1470V1467M835 1470V1467M840 1469V1467M844 1469V1467M848 1469V1467M936 1469V1467M965 1469V1467M969 1469V1467M973 1469V1467M978 1469V1467M982 1469V1467M986 1469V1467M990 1469V1467M1086 1470V1467M1116 1473V1467M1124 1473V1467M1133 1472V1467M1137 1472V1467M1141 1471V1467M1145 1470V1467M1149 1470V1467M1153 1470V1467M1158 1470V1467M1162 1469V1467M1170 1469V1467M1174 1469V1467M1233 1477V1467M1237 1476V1467M1241 1475V1467M1246 1475V1467M1254 1474V1467M1258 1473V1467M1262 1472V1467M1266 1470V1467M1271 1469V1467M1396 1469V1467M1400 1469V1467M1405 1469V1467M1409 1469V1467M1417 1469V1467M1421 1469V1467M1463 1470V1467M1467 1470V1467M1472 1469V1467M1476 1469V1467M1480 1469V1467M1484 1469V1467M1543 1469V1467M1551 1469V1467M1555 1469V1467M1559 1469V1467M1685 1470V1467M1698 1471V1467M1706 1470V1467M1710 1470V1467M1714 1469V1467M1718 1469V1467M1727 1469V1467M1731 1469V1467M1760 1470V1467M1777 1471V1467M1781 1471V1467M1785 1471V1467M1790 1470V1467M1794 1469V1467M1798 1469V1467M1974 1469V1467M1982 1469V1467M1986 1469V1467M1990 1469V1467M1995 1469V1467M2003 1469V1467M2007 1469V1467M2011 1469V1467M2016 1469V1467M2036 1469V1467M2053 1470V1467M2062 1469V1467M2066 1469V1467M2070 1469V1467M2074 1469V1467M2078 1469V1467" stroke="#ffcdd2" stroke-width="2" fill="none"/>
<path d="M16.3 1436.8L20.5 1437.4L24.7 1438.1L28.8 1438.9L33 1439.2L37.2 1441.2L41.4 1444.9L45.6 1448.4L49.8 1450.4L53.9 1452.8L58.1 1453.9L62.3 1454.2L66.5 1455.8L70.7 1457L74.9 1458.4L79.1 1459.7L83.2 1460.4L87.4 1460.9L91.6 1460.4L95.8 1459.7L100 1459.1L104.2 1459.1L108.4 1458.9L112.5 1460.1L116.7 1461.5L120.9 1463L125.1 1463.8L129.3 1463.9L133.5 1464.1L137.6 1464.5L141.8 1465.5L146 1465.7L150.2 1466.7L154.4 1467.1L158.6 1469L162.8 1470.7L166.9 1471.1L171.1 1471.8L175.3 1472.3L179.5 1472.6L183.7 1474.7L187.9 1477.9L192.1 1480.8L196.2 1482.4L200.4 1484.4L204.6 1485.8L208.8 1486L213 1487.1L217.2 1491.1L221.3 1494.1L225.5 1497.6L229.7 1500.2L233.9 1502.2L238.1 1501.2L242.3 1499.7L246.5 1499L250.6 1499.1L254.8 1498.8L259 1502.6L263.2 1503.3L267.4 1506.8L271.6 1508.8L275.8 1514.7L279.9 1520.2L284.1 1524.4L288.3 1529.5L292.5 1531.2L296.7 1534.7L300.9 1536.4L305 1537.7L309.2 1543.1L313.4 1546.5L317.6 1544L321.8 1544.4L326 1544.4L330.2 1544.3L334.3 1542.4L338.5 1540L342.7 1536.5L346.9 1533.9L351.1 1532L355.3 1530.3L359.5 1526.9L363.6 1517.1L367.8 1507.8L372 1501.8L376.2 1496.5L380.4 1490.4L384.6 1484.4L388.7 1477.4L392.9 1471.7L397.1 1469.6L401.3 1472.1L405.5 1470.9L409.7 1472.2L413.9 1473.6L418 1475.4L422.2 1475.8L426.4 1476.8L430.6 1477.6L434.8 1478.9L439 1479.9L443.2 1480.3L447.3 1481.4L451.5 1481.2L455.7 1481.6L459.9 1481.5L464.1 1481.9L468.3 1482.1L472.4 1481.8L476.6 1481.6L480.8 1481.2L485 1481.2L489.2 1482.6L493.4 1482.9L497.6 1481.7L501.7 1481L505.9 1480.1L510.1 1480.2L514.3 1480.4L518.5 1480.5L522.7 1480.5L526.9 1480.3L531 1479.8L535.2 1478.5L539.4 1477L543.6 1475.8L547.8 1475.5L552 1475.2L556.1 1475.2L560.3 1475.8L564.5 1479.2L568.7 1483.5L572.9 1487.6L577.1 1489.9L581.3 1491.7L585.4 1493.9L589.6 1497L593.8 1499.3L598 1502.7L602.2 1499.9L606.4 1498.3L610.6 1497.1L614.7 1495.5L618.9 1494.6L623.1 1495L627.3 1494.4L631.5 1494.2L635.7 1492.9L639.8 1491.1L644 1489.5L648.2 1486.4L652.4 1484.9L656.6 1484.1L660.8 1483.8L665 1483.1L669.1 1482.4L673.3 1481.3L677.5 1480.8L681.7 1479.6L685.9 1478.7L690.1 1477.4L694.3 1476.9L698.4 1476.3L702.6 1475.5L706.8 1474.6L711 1473.3L715.2 1472.8L719.4 1471.9L723.5 1470.8L727.7 1468.9L731.9 1468.2L736.1 1467.3L740.3 1466.1L744.5 1465.6L748.7 1464.2L752.8 1463.9L757 1464L761.2 1463.7L765.4 1463.5L769.6 1463.6L773.8 1463.9L778 1464L782.1 1464.4L786.3 1465.8L790.5 1466.5L794.7 1466.8L798.9 1467.2L803.1 1468.1L807.2 1469.1L811.4 1469.5L815.6 1470.1L819.8 1470.8L824 1471.1L828.2 1471.4L832.4 1471.8L836.5 1472L840.7 1472L844.9 1471.9L849.1 1471.9L853.3 1470.8L857.5 1470.5L861.7 1469.9L865.8 1469.8L870 1469L874.2 1468.2L878.4 1467.5L882.6 1466.4L886.8 1466.5L890.9 1466.5L895.1 1466.7L899.3 1466.4L903.5 1466.6L907.7 1466.7L911.9 1466.8L916.1 1466.4L920.2 1466.1L924.4 1466.7L928.6 1467.2L932.8 1467.4L937 1467.2L941.2 1466.6L945.4 1466.8L949.5 1467.5L953.7 1467.8L957.9 1468.4L962.1 1469.1L966.3 1469.4L970.5 1469.6L974.6 1469.8L978.8 1469.9L983 1469.9L987.2 1469.9L991.4 1469.8L995.6 1469.3L999.8 1467.3L1003.9 1466L1008.1 1464.7L1012.3 1463.8L1016.5 1463L1020.7 1461.2L1024.9 1458.2L1029.1 1455.3L1033.2 1452.7L1037.4 1449.3L1041.6 1441.5L1045.8 1438.5L1050 1435.7L1054.2 1432.7L1058.3 1432.9L1062.5 1432.7L1066.7 1433.9L1070.9 1435.2L1075.1 1438.5L1079.3 1441.4L1083.5 1442.3L1087.6 1442.4L1091.8 1443L1096 1444.3L1100.2 1446.6L1104.4 1448.6L1108.6 1450.7L1112.8 1452.9L1116.9 1453.4L1121.1 1454.9L1125.3 1455.1L1129.5 1456.5L1133.7 1457.1L1137.9 1457.7L1142 1457.8L1146.2 1457.7L1150.4 1458.1L1154.6 1458.6L1158.8 1458.5L1163 1457.8L1167.2 1458.3L1171.3 1458.1L1175.5 1458.1L1179.7 1455.6L1183.9 1454.3L1188.1 1453.9L1192.3 1456.4L1196.5 1457.5L1200.6 1458.9L1204.8 1460.8L1209 1463.3L1213.2 1465.1L1217.4 1466.5L1221.6 1468.7L1225.7 1473.4L1229.9 1476.7L1234.1 1479L1238.3 1479.5L1242.5 1480.7L1246.7 1482.2L1250.9 1484.2L1255 1484.5L1259.2 1484.8L1263.4 1484.2L1267.6 1483L1271.8 1482.4L1276 1479.8L1280.2 1477.6L1284.3 1475.6L1288.5 1474.5L1292.7 1474.2L1296.9 1475L1301.1 1475.2L1305.3 1474L1309.4 1473.7L1313.6 1472.6L1317.8 1472.5L1322 1472.3L1326.2 1472L1330.4 1471.9L1334.6 1471.1L1338.7 1470.7L1342.9 1470.1L1347.1 1469.5L1351.3 1469L1355.5 1468.6L1359.7 1468L1363.9 1467L1368 1466.5L1372.2 1467.3L1376.4 1468.3L1380.6 1468.5L1384.8 1468.5L1389 1468.9L1393.1 1469L1397.3 1469L1401.5 1468.9L1405.7 1469L1409.9 1468.9L1414.1 1469.3L1418.3 1469.2L1422.4 1469L1426.6 1469L1430.8 1469.6L1435 1469.8L1439.2 1470L1443.4 1470.3L1447.6 1470.7L1451.7 1472.5L1455.9 1473.5L1460.1 1474.6L1464.3 1474.7L1468.5 1474.9L1472.7 1474.6L1476.8 1474.6L1481 1474.7L1485.2 1474.4L1489.4 1473.7L1493.6 1472.5L1497.8 1472L1502 1471.4L1506.1 1471.4L1510.3 1471.3L1514.5 1471.6L1518.7 1471.9L1522.9 1471.4L1527.1 1471.4L1531.3 1471.8L1535.4 1472.5L1539.6 1473.3L1543.8 1473.4L1548 1473.6L1552.2 1473.4L1556.4 1473.3L1560.5 1473.2L1564.7 1472.5L1568.9 1472.3L1573.1 1472L1577.3 1472.2L1581.5 1472.2L1585.7 1471.8L1589.8 1470.5L1594 1469.9L1598.2 1469.3L1602.4 1468.8L1606.6 1469L1610.8 1468.8L1615 1468.7L1619.1 1468.2L1623.3 1467.5L1627.5 1466.6L1631.7 1463L1635.9 1461.7L1640.1 1461L1644.2 1460.7L1648.4 1460.1L1652.6 1459.6L1656.8 1459.6L1661 1460.3L1665.2 1460.5L1669.4 1461.7L1673.5 1462.5L1677.7 1464.3L1681.9 1465.3L1686.1 1465.3L1690.3 1466.5L1694.5 1467.6L1698.7 1468L1702.8 1468.8L1707 1469L1711.2 1469L1715.4 1468.7L1719.6 1468.4L1723.8 1468.6L1727.9 1468.3L1732.1 1468.1L1736.3 1467.8L1740.5 1468.9L1744.7 1469.7L1748.9 1470.7L1753.1 1471.8L1757.2 1472.8L1761.4 1473.2L1765.6 1474L1769.8 1475.1L1774 1476.8L1778.2 1477.1L1782.4 1477.3L1786.5 1477.8L1790.7 1477.9L1794.9 1477.2L1799.1 1476.6L1803.3 1475.7L1807.5 1475.1L1811.6 1474.3L1815.8 1473.9L1820 1473.5L1824.2 1472.8L1828.4 1472.2L1832.6 1471.4L1836.8 1470.7L1840.9 1470.9L1845.1 1471.4L1849.3 1471.6L1853.5 1471.6L1857.7 1471.4L1861.9 1471.2L1866.1 1471.1L1870.2 1471.1L1874.4 1471L1878.6 1470.6L1882.8 1470.1L1887 1469.9L1891.2 1469.7L1895.3 1469.4L1899.5 1469.4L1903.7 1469.5L1907.9 1469.4L1912.1 1469.6L1916.3 1469.7L1920.5 1469.6L1924.6 1469.1L1928.8 1468.5L1933 1468.2L1937.2 1467.9L1941.4 1468.2L1945.6 1468.2L1949.8 1468.1L1953.9 1467.9L1958.1 1468.2L1962.3 1468.6L1966.5 1469L1970.7 1469.6L1974.9 1469.8L1979 1470.7L1983.2 1470.9L1987.4 1471.2L1991.6 1471.5L1995.8 1471.8L2000 1472.1L2004.2 1472.4L2008.3 1472.2L2012.5 1472L2016.7 1471.8L2020.9 1471.6L2025.1 1471.5L2029.3 1471.5L2033.5 1471.8L2037.6 1471.7L2041.8 1472.4L2046 1473.3L2050.2 1474.2L2054.4 1474.6L2058.6 1475L2062.7 1475L2066.9 1474.8L2071.1 1474.9L2075.3 1474.8L2079.5 1474.3L2083.7 1473.6L2087.9 1473.1L2092 1472.9L2096.2 1472.5L2100.4 1471.7L2104.6 1470.8L2108.8 1470.6L2113 1470.2L2117.2 1469.7L2121.3 1469.1L2125.5 1468.4L2129.7 1468.1L2133.9 1464.4L2138.1 1463.7L2142.3 1462.7L2146.4 1461.8L2150.6 1460.3L2154.8 1459.9L2159 1459.8L2163.2 1460.1L2167.4 1459.6L2171.6 1460.2L2175.7 1459.7L2179.9 1460.2L2184.1 1459.9L2188.3 1459.7L2192.5 1458L2196.7 1456L2200.9 1452.7L2205 1445.7L2209.2 1439L2213.4 1432.3L2217.6 1428.7L2221.8 1422L2226 1418.5L2230.1 1419.7L2234.3 1419.3L2238.5 1416.8L2242.7 1412.9L2246.9 1408L2251.1 1404.1L2255.3 1403.7L2259.4 1406.3L2263.6 1407.6L2267.8 1408.4L2272 1408L2276.2 1409.8L2280.4 1410.9" stroke="#0094ff" stroke-width="2.4" fill="none" stroke-linejoin="round"/>
<path d="M16.3 1439.2L20.5 1438.9L24.7 1438.7L28.8 1438.7L33 1438.8L37.2 1439.3L41.4 1440.4L45.6 1442L49.8 1443.7L53.9 1445.5L58.1 1447.2L62.3 1448.6L66.5 1450L70.7 1451.4L74.9 1452.8L79.1 1454.2L83.2 1455.5L87.4 1456.5L91.6 1457.3L95.8 1457.8L100 1458.1L104.2 1458.3L108.4 1458.4L112.5 1458.7L116.7 1459.3L120.9 1460L125.1 1460.8L129.3 1461.4L133.5 1461.9L137.6 1462.5L141.8 1463.1L146 1463.6L150.2 1464.2L154.4 1464.8L158.6 1465.6L162.8 1466.6L166.9 1467.5L171.1 1468.4L175.3 1469.2L179.5 1469.9L183.7 1470.8L187.9 1472.2L192.1 1473.9L196.2 1475.6L200.4 1477.4L204.6 1479.1L208.8 1480.5L213 1481.8L217.2 1483.6L221.3 1485.7L225.5 1488.1L229.7 1490.5L233.9 1492.9L238.1 1494.5L242.3 1495.6L246.5 1496.2L250.6 1496.8L254.8 1497.2L259 1498.3L263.2 1499.3L267.4 1500.8L271.6 1502.4L275.8 1504.9L279.9 1507.9L284.1 1511.2L288.3 1514.9L292.5 1518.1L296.7 1521.5L300.9 1524.4L305 1527.1L309.2 1530.3L313.4 1533.5L317.6 1535.6L321.8 1537.4L326 1538.8L330.2 1539.9L334.3 1540.4L338.5 1540.3L342.7 1539.6L346.9 1538.4L351.1 1537.1L355.3 1535.8L359.5 1534L363.6 1530.6L367.8 1526L372 1521.2L376.2 1516.3L380.4 1511.1L384.6 1505.8L388.7 1500.1L392.9 1494.4L397.1 1489.4L401.3 1486L405.5 1483L409.7 1480.8L413.9 1479.4L418 1478.6L422.2 1478L426.4 1477.8L430.6 1477.7L434.8 1478L439 1478.4L443.2 1478.7L447.3 1479.3L451.5 1479.7L455.7 1480L459.9 1480.3L464.1 1480.6L468.3 1480.9L472.4 1481.1L476.6 1481.2L480.8 1481.2L485 1481.2L489.2 1481.5L493.4 1481.8L497.6 1481.7L501.7 1481.6L505.9 1481.3L510.1 1481.1L514.3 1480.9L518.5 1480.9L522.7 1480.8L526.9 1480.7L531 1480.5L535.2 1480.1L539.4 1479.5L543.6 1478.8L547.8 1478.1L552 1477.5L556.1 1477.1L560.3 1476.8L564.5 1477.3L568.7 1478.5L572.9 1480.3L577.1 1482.2L581.3 1484.1L585.4 1486.1L589.6 1488.3L593.8 1490.5L598 1492.9L602.2 1494.3L606.4 1495.1L610.6 1495.5L614.7 1495.5L618.9 1495.3L623.1 1495.3L627.3 1495.1L631.5 1494.9L635.7 1494.5L639.8 1493.8L644 1493L648.2 1491.7L652.4 1490.3L656.6 1489.1L660.8 1488L665 1487L669.1 1486.1L673.3 1485.2L677.5 1484.3L681.7 1483.3L685.9 1482.4L690.1 1481.4L694.3 1480.5L698.4 1479.7L702.6 1478.8L706.8 1478L711 1477L715.2 1476.2L719.4 1475.3L723.5 1474.4L727.7 1473.3L731.9 1472.3L736.1 1471.3L740.3 1470.3L744.5 1469.3L748.7 1468.3L752.8 1467.4L757 1466.7L761.2 1466.1L765.4 1465.6L769.6 1465.2L773.8 1464.9L778 1464.7L782.1 1464.7L786.3 1464.9L790.5 1465.2L794.7 1465.5L798.9 1465.9L803.1 1466.3L807.2 1466.9L811.4 1467.4L815.6 1467.9L819.8 1468.5L824 1469L828.2 1469.5L832.4 1470L836.5 1470.4L840.7 1470.7L844.9 1470.9L849.1 1471.1L853.3 1471.1L857.5 1471L861.7 1470.8L865.8 1470.6L870 1470.2L874.2 1469.8L878.4 1469.4L882.6 1468.8L886.8 1468.3L890.9 1468L895.1 1467.7L899.3 1467.5L903.5 1467.3L907.7 1467.2L911.9 1467.1L916.1 1466.9L920.2 1466.8L924.4 1466.8L928.6 1466.8L932.8 1466.9L937 1467L941.2 1466.9L945.4 1466.9L949.5 1467L953.7 1467.2L957.9 1467.4L962.1 1467.8L966.3 1468.1L970.5 1468.4L974.6 1468.7L978.8 1468.9L983 1469.1L987.2 1469.3L991.4 1469.4L995.6 1469.4L999.8 1469L1003.9 1468.4L1008.1 1467.6L1012.3 1466.9L1016.5 1466.1L1020.7 1465.1L1024.9 1463.7L1029.1 1462L1033.2 1460.2L1037.4 1458L1041.6 1454.7L1045.8 1451.5L1050 1448.3L1054.2 1445.2L1058.3 1442.7L1062.5 1440.7L1066.7 1439.3L1070.9 1438.5L1075.1 1438.5L1079.3 1439.1L1083.5 1439.7L1087.6 1440.3L1091.8 1440.8L1096 1441.5L1100.2 1442.5L1104.4 1443.7L1108.6 1445.1L1112.8 1446.7L1116.9 1448L1121.1 1449.4L1125.3 1450.5L1129.5 1451.7L1133.7 1452.8L1137.9 1453.8L1142 1454.6L1146.2 1455.2L1150.4 1455.8L1154.6 1456.4L1158.8 1456.8L1163 1457L1167.2 1457.2L1171.3 1457.4L1175.5 1457.5L1179.7 1457.2L1183.9 1456.6L1188.1 1456L1192.3 1456.1L1196.5 1456.4L1200.6 1456.9L1204.8 1457.7L1209 1458.8L1213.2 1460L1217.4 1461.3L1221.6 1462.8L1225.7 1464.9L1229.9 1467.3L1234.1 1469.6L1238.3 1471.6L1242.5 1473.4L1246.7 1475.2L1250.9 1477L1255 1478.5L1259.2 1479.7L1263.4 1480.6L1267.6 1481.1L1271.8 1481.4L1276 1481.1L1280.2 1480.4L1284.3 1479.4L1288.5 1478.4L1292.7 1477.6L1296.9 1477.1L1301.1 1476.7L1305.3 1476.1L1309.4 1475.6L1313.6 1475L1317.8 1474.5L1322 1474.1L1326.2 1473.7L1330.4 1473.3L1334.6 1472.9L1338.7 1472.4L1342.9 1472L1347.1 1471.5L1351.3 1471L1355.5 1470.5L1359.7 1470L1363.9 1469.4L1368 1468.8L1372.2 1468.5L1376.4 1468.5L1380.6 1468.5L1384.8 1468.5L1389 1468.6L1393.1 1468.7L1397.3 1468.7L1401.5 1468.8L1405.7 1468.8L1409.9 1468.8L1414.1 1468.9L1418.3 1469L1422.4 1469L1426.6 1469L1430.8 1469.1L1435 1469.2L1439.2 1469.4L1443.4 1469.6L1447.6 1469.8L1451.7 1470.3L1455.9 1471L1460.1 1471.7L1464.3 1472.3L1468.5 1472.8L1472.7 1473.2L1476.8 1473.5L1481 1473.7L1485.2 1473.9L1489.4 1473.8L1493.6 1473.6L1497.8 1473.2L1502 1472.9L1506.1 1472.6L1510.3 1472.3L1514.5 1472.2L1518.7 1472.1L1522.9 1472L1527.1 1471.9L1531.3 1471.8L1535.4 1472L1539.6 1472.2L1543.8 1472.5L1548 1472.7L1552.2 1472.9L1556.4 1472.9L1560.5 1473L1564.7 1472.9L1568.9 1472.8L1573.1 1472.6L1577.3 1472.5L1581.5 1472.5L1585.7 1472.3L1589.8 1472L1594 1471.6L1598.2 1471.1L1602.4 1470.6L1606.6 1470.3L1610.8 1470L1615 1469.7L1619.1 1469.4L1623.3 1469L1627.5 1468.5L1631.7 1467.4L1635.9 1466.3L1640.1 1465.2L1644.2 1464.3L1648.4 1463.5L1652.6 1462.7L1656.8 1462.1L1661 1461.7L1665.2 1461.5L1669.4 1461.5L1673.5 1461.7L1677.7 1462.2L1681.9 1462.8L1686.1 1463.3L1690.3 1464L1694.5 1464.7L1698.7 1465.4L1702.8 1466.1L1707 1466.6L1711.2 1467.1L1715.4 1467.4L1719.6 1467.6L1723.8 1467.8L1727.9 1467.9L1732.1 1467.9L1736.3 1467.9L1740.5 1468.1L1744.7 1468.4L1748.9 1468.9L1753.1 1469.5L1757.2 1470.2L1761.4 1470.8L1765.6 1471.4L1769.8 1472.1L1774 1473.1L1778.2 1473.9L1782.4 1474.6L1786.5 1475.2L1790.7 1475.7L1794.9 1476L1799.1 1476.1L1803.3 1476.1L1807.5 1475.9L1811.6 1475.6L1815.8 1475.2L1820 1474.9L1824.2 1474.5L1828.4 1474L1832.6 1473.5L1836.8 1472.9L1840.9 1472.5L1845.1 1472.3L1849.3 1472.2L1853.5 1472.1L1857.7 1471.9L1861.9 1471.8L1866.1 1471.6L1870.2 1471.5L1874.4 1471.4L1878.6 1471.3L1882.8 1471L1887 1470.8L1891.2 1470.6L1895.3 1470.3L1899.5 1470.1L1903.7 1470L1907.9 1469.9L1912.1 1469.8L1916.3 1469.8L1920.5 1469.8L1924.6 1469.6L1928.8 1469.4L1933 1469.2L1937.2 1468.9L1941.4 1468.8L1945.6 1468.7L1949.8 1468.6L1953.9 1468.4L1958.1 1468.4L1962.3 1468.4L1966.5 1468.5L1970.7 1468.8L1974.9 1469L1979 1469.3L1983.2 1469.6L1987.4 1470L1991.6 1470.3L1995.8 1470.6L2000 1470.9L2004.2 1471.2L2008.3 1471.4L2012.5 1471.5L2016.7 1471.6L2020.9 1471.6L2025.1 1471.6L2029.3 1471.6L2033.5 1471.6L2037.6 1471.6L2041.8 1471.8L2046 1472.1L2050.2 1472.5L2054.4 1472.9L2058.6 1473.3L2062.7 1473.7L2066.9 1473.9L2071.1 1474.1L2075.3 1474.2L2079.5 1474.2L2083.7 1474.1L2087.9 1473.9L2092 1473.7L2096.2 1473.5L2100.4 1473.1L2104.6 1472.7L2108.8 1472.2L2113 1471.8L2117.2 1471.4L2121.3 1471L2125.5 1470.4L2129.7 1470L2133.9 1468.9L2138.1 1467.8L2142.3 1466.8L2146.4 1465.8L2150.6 1464.7L2154.8 1463.7L2159 1462.9L2163.2 1462.4L2167.4 1461.8L2171.6 1461.5L2175.7 1461.1L2179.9 1461L2184.1 1460.8L2188.3 1460.5L2192.5 1460L2196.7 1459.2L2200.9 1457.9L2205 1455.5L2209.2 1452.2L2213.4 1448.2L2217.6 1444.3L2221.8 1439.8L2226 1435.6L2230.1 1432.4L2234.3 1429.8L2238.5 1427.2L2242.7 1424.3L2246.9 1421.1L2251.1 1417.7L2255.3 1414.9L2259.4 1413.2L2263.6 1412.1L2267.8 1411.3L2272 1410.7L2276.2 1410.5L2280.4 1410.6" stroke="#ff6a00" stroke-width="2.4" fill="none" stroke-linejoin="round"/>
<path d="M13 87H2575V1611H13Z M2475 87V1611 M13 1203H2575 M13 1394H2575 M13 1557H2575" stroke="#444444" stroke-width="2" fill="none"/>
<path d="M2476 152h8" stroke="#484848" stroke-width="2"/>
<text x="2492.5" y="160.2" font-size="23" fill="#484848" stroke="#484848" stroke-width="0.45" textLength="53" lengthAdjust="spacingAndGlyphs">0.600</text>
<path d="M2476 263h8" stroke="#484848" stroke-width="2"/>
<text x="2492.5" y="271.2" font-size="23" fill="#484848" stroke="#484848" stroke-width="0.45" textLength="53" lengthAdjust="spacingAndGlyphs">0.550</text>
<path d="M2476 485h8" stroke="#484848" stroke-width="2"/>
<text x="2492.5" y="493.2" font-size="23" fill="#484848" stroke="#484848" stroke-width="0.45" textLength="53" lengthAdjust="spacingAndGlyphs">0.450</text>
<path d="M2476 597h8" stroke="#484848" stroke-width="2"/>
<text x="2492.5" y="605.2" font-size="23" fill="#484848" stroke="#484848" stroke-width="0.45" textLength="53" lengthAdjust="spacingAndGlyphs">0.400</text>
<path d="M2476 708h8" stroke="#484848" stroke-width="2"/>
<text x="2492.5" y="716.2" font-size="23" fill="#484848" stroke="#484848" stroke-width="0.45" textLength="53" lengthAdjust="spacingAndGlyphs">0.350</text>
<path d="M2476 819h8" stroke="#484848" stroke-width="2"/>
<text x="2492.5" y="827.2" font-size="23" fill="#484848" stroke="#484848" stroke-width="0.45" textLength="53" lengthAdjust="spacingAndGlyphs">0.300</text>
<path d="M2476 1042h8" stroke="#484848" stroke-width="2"/>
<text x="2492.5" y="1050.2" font-size="23" fill="#484848" stroke="#484848" stroke-width="0.45" textLength="53" lengthAdjust="spacingAndGlyphs">0.200</text>
<path d="M2476 1153h8" stroke="#484848" stroke-width="2"/>
<text x="2492.5" y="1161.2" font-size="23" fill="#484848" stroke="#484848" stroke-width="0.45" textLength="53" lengthAdjust="spacingAndGlyphs">0.150</text>
<rect x="2474" y="377.2" width="90" height="33.7" fill="#53b987"/>
<path d="M2474 394h8" stroke="#000" stroke-width="2"/>
<text x="2492.5" y="402.2" font-size="23" fill="#000" stroke="#000" stroke-width="0.45" textLength="53" lengthAdjust="spacingAndGlyphs">0.491</text>
<rect x="2474" y="358" width="90" height="33.7" fill="#38761d"/>
<path d="M2474 375h8" stroke="#fff" stroke-width="2"/>
<text x="2492.5" y="383.2" font-size="23" fill="#fff" stroke="#fff" stroke-width="0.45" textLength="53" lengthAdjust="spacingAndGlyphs">0.500</text>
<rect x="2474" y="780" width="90" height="33.5" fill="#ff9800"/>
<path d="M2474 797h8" stroke="#000" stroke-width="2"/>
<text x="2492.5" y="805.2" font-size="23" fill="#000" stroke="#000" stroke-width="0.45" textLength="53" lengthAdjust="spacingAndGlyphs">0.310</text>
<rect x="2474" y="840" width="90" height="34" fill="#ff0000"/>
<path d="M2474 857h8" stroke="#fff" stroke-width="2"/>
<text x="2492.5" y="865.2" font-size="23" fill="#fff" stroke="#fff" stroke-width="0.45" textLength="53" lengthAdjust="spacingAndGlyphs">0.283</text>
<rect x="2474" y="874" width="90" height="34" fill="#9000ff"/>
<path d="M2474 891h8" stroke="#fff" stroke-width="2"/>
<text x="2492.5" y="899.2" font-size="23" fill="#fff" stroke="#fff" stroke-width="0.45" textLength="53" lengthAdjust="spacingAndGlyphs">0.280</text>
<rect x="2474" y="908" width="90" height="33.5" fill="#4a86e8"/>
<path d="M2474 925h8" stroke="#fff" stroke-width="2"/>
<text x="2492.5" y="933.2" font-size="23" fill="#fff" stroke="#fff" stroke-width="0.45" textLength="53" lengthAdjust="spacingAndGlyphs">0.260</text>
<rect x="2474" y="996" width="90" height="33.6" fill="#0000ff"/>
<path d="M2474 1013h8" stroke="#fff" stroke-width="2"/>
<text x="2492.5" y="1021.2" font-size="23" fill="#fff" stroke="#fff" stroke-width="0.45" textLength="53" lengthAdjust="spacingAndGlyphs">0.213</text>
<rect x="2474" y="1092" width="90" height="33.6" fill="#0000ff"/>
<path d="M2474 1109h8" stroke="#fff" stroke-width="2"/>
<text x="2492.5" y="1117.2" font-size="23" fill="#fff" stroke="#fff" stroke-width="0.45" textLength="53" lengthAdjust="spacingAndGlyphs">0.170</text>
<path d="M2476 1247h8" stroke="#484848" stroke-width="2"/>
<text x="2492.5" y="1255.2" font-size="23" fill="#484848" stroke="#484848" stroke-width="0.45" textLength="53" lengthAdjust="spacingAndGlyphs">80.00</text>
<path d="M2476 1314h8" stroke="#484848" stroke-width="2"/>
<text x="2492.5" y="1322.2" font-size="23" fill="#484848" stroke="#484848" stroke-width="0.45" textLength="53" lengthAdjust="spacingAndGlyphs">40.00</text>
<path d="M2476 1382h8" stroke="#484848" stroke-width="2"/>
<text x="2492.5" y="1390.2" font-size="23" fill="#484848" stroke="#484848" stroke-width="0.45" textLength="42" lengthAdjust="spacingAndGlyphs">0.00</text>
<clipPath id="c3"><rect x="2476" y="1395" width="120" height="200"/></clipPath>
<g clip-path="url(#c3)">
<path d="M2476 1397h8" stroke="#484848" stroke-width="2"/>
<text x="2492.5" y="1405.2" font-size="23" fill="#484848" stroke="#484848" stroke-width="0.45" textLength="53" lengthAdjust="spacingAndGlyphs">0.050</text>
</g>
<path d="M2476 1468h8" stroke="#484848" stroke-width="2"/>
<text x="2492.5" y="1476.2" font-size="23" fill="#484848" stroke="#484848" stroke-width="0.45" textLength="53" lengthAdjust="spacingAndGlyphs">0.000</text>
<path d="M2476 1539h8" stroke="#484848" stroke-width="2"/>
<text x="2492.5" y="1547.2" font-size="23" fill="#484848" stroke="#484848" stroke-width="0.45" textLength="65" lengthAdjust="spacingAndGlyphs">−0.050</text>
<rect x="2495.4" y="101.2" width="57.4" height="35.4" rx="7.5" fill="#fff" stroke="#ced3e0" stroke-width="2"/>
<text x="2505.6" y="127.9" font-size="23" fill="#484848" stroke="#484848" stroke-width="0.45" textLength="36.4" lengthAdjust="spacingAndGlyphs">USD</text>
<path d="M162 1558v7" stroke="#484848" stroke-width="2"/>
<text x="151.5" y="1593.6" font-size="22" fill="#484848" stroke="#484848" stroke-width="0.4" textLength="21" lengthAdjust="spacingAndGlyphs">21</text>
<path d="M312 1558v7" stroke="#484848" stroke-width="2"/>
<text x="301.5" y="1593.6" font-size="22" fill="#484848" stroke="#484848" stroke-width="0.4" textLength="21" lengthAdjust="spacingAndGlyphs">24</text>
<path d="M513 1558v7" stroke="#484848" stroke-width="2"/>
<text x="502.5" y="1593.6" font-size="22" fill="#484848" stroke="#484848" stroke-width="0.4" textLength="21" lengthAdjust="spacingAndGlyphs">28</text>
<path d="M714 1558v7" stroke="#484848" stroke-width="2"/>
<text x="689.2" y="1593.6" font-size="22" fill="#484848" stroke="#484848" stroke-width="0.4" font-weight="bold" textLength="49.5" lengthAdjust="spacingAndGlyphs">2021</text>
<path d="M865 1558v7" stroke="#484848" stroke-width="2"/>
<text x="859.2" y="1593.6" font-size="22" fill="#484848" stroke="#484848" stroke-width="0.4" textLength="11.5" lengthAdjust="spacingAndGlyphs">4</text>
<path d="M1015 1558v7" stroke="#484848" stroke-width="2"/>
<text x="1009.2" y="1593.6" font-size="22" fill="#484848" stroke="#484848" stroke-width="0.4" textLength="11.5" lengthAdjust="spacingAndGlyphs">7</text>
<path d="M1216 1558v7" stroke="#484848" stroke-width="2"/>
<text x="1205.5" y="1593.6" font-size="22" fill="#484848" stroke="#484848" stroke-width="0.4" textLength="21" lengthAdjust="spacingAndGlyphs">11</text>
<path d="M1367 1558v7" stroke="#484848" stroke-width="2"/>
<text x="1356.5" y="1593.6" font-size="22" fill="#484848" stroke="#484848" stroke-width="0.4" textLength="21" lengthAdjust="spacingAndGlyphs">14</text>
<path d="M1568 1558v7" stroke="#484848" stroke-width="2"/>
<text x="1557.5" y="1593.6" font-size="22" fill="#484848" stroke="#484848" stroke-width="0.4" textLength="21" lengthAdjust="spacingAndGlyphs">18</text>
<path d="M1719 1558v7" stroke="#484848" stroke-width="2"/>
<text x="1708.5" y="1593.6" font-size="22" fill="#484848" stroke="#484848" stroke-width="0.4" textLength="21" lengthAdjust="spacingAndGlyphs">21</text>
<path d="M1919 1558v7" stroke="#484848" stroke-width="2"/>
<text x="1908.5" y="1593.6" font-size="22" fill="#484848" stroke="#484848" stroke-width="0.4" textLength="21" lengthAdjust="spacingAndGlyphs">25</text>
<path d="M2070 1558v7" stroke="#484848" stroke-width="2"/>
<text x="2059.5" y="1593.6" font-size="22" fill="#484848" stroke="#484848" stroke-width="0.4" textLength="21" lengthAdjust="spacingAndGlyphs">28</text>
<path d="M2271 1558v7" stroke="#484848" stroke-width="2"/>
<text x="2253" y="1593.6" font-size="22" fill="#484848" stroke="#484848" stroke-width="0.4" textLength="36" lengthAdjust="spacingAndGlyphs">Feb</text>
<path d="M2422 1558v7" stroke="#484848" stroke-width="2"/>
<text x="2416.2" y="1593.6" font-size="22" fill="#484848" stroke="#484848" stroke-width="0.4" textLength="11.5" lengthAdjust="spacingAndGlyphs">4</text>
<text x="13.5" y="32.8" font-size="24" fill="#131722" font-weight="bold" textLength="65.2" lengthAdjust="spacingAndGlyphs">FilFox</text>
<text x="87.4" y="32.8" font-size="24" fill="#131722" textLength="721.4" lengthAdjust="spacingAndGlyphs">published on TradingView.com, February 01, 2021 06:09:31 +03</text>
<text x="13.5" y="66.6" font-size="24" fill="#131722" font-weight="bold" textLength="275.3" lengthAdjust="spacingAndGlyphs">BITSTAMP:XRPUSD, 120</text>
<text x="301" y="66.6" font-size="24" fill="#131722" textLength="60" lengthAdjust="spacingAndGlyphs">0.491</text>
<path d="M369 49.8h19.5l-9.75 18.4z" fill="#ef5350"/>
<text x="398" y="66.6" font-size="24" fill="#131722" textLength="74.7" lengthAdjust="spacingAndGlyphs">−0.005</text>
<text x="482" y="66.6" font-size="24" fill="#131722" textLength="95.7" lengthAdjust="spacingAndGlyphs">(−0.91%)</text>
<text x="587.4" y="66.6" font-size="24" fill="#131722" font-weight="bold" textLength="25.2" lengthAdjust="spacingAndGlyphs">O:</text>
<text x="615.5" y="66.6" font-size="24" fill="#ef5350" textLength="61.5" lengthAdjust="spacingAndGlyphs">0.481</text>
<text x="688" y="66.6" font-size="24" fill="#131722" font-weight="bold" textLength="23" lengthAdjust="spacingAndGlyphs">H:</text>
<text x="714" y="66.6" font-size="24" fill="#ef5350" textLength="62.5" lengthAdjust="spacingAndGlyphs">0.493</text>
<text x="786.5" y="66.6" font-size="24" fill="#131722" font-weight="bold" textLength="19.5" lengthAdjust="spacingAndGlyphs">L:</text>
<text x="807.6" y="66.6" font-size="24" fill="#ef5350" textLength="62" lengthAdjust="spacingAndGlyphs">0.476</text>
<text x="879.4" y="66.6" font-size="24" fill="#131722" font-weight="bold" textLength="21.6" lengthAdjust="spacingAndGlyphs">C:</text>
<text x="903" y="66.6" font-size="24" fill="#ef5350" textLength="62.5" lengthAdjust="spacingAndGlyphs">0.491</text>
<g transform="translate(6,1626)">
<path d="M14.26 36.98A9.8 9.8 0 0 1 5.94 27.62A9.8 9.8 0 0 1 16.04 17.82A12.18 12.18 0 0 1 40.1 16.19A9.06 9.06 0 0 1 53.16 23.17A7.43 7.43 0 0 1 51.98 36.98Z" fill="#2196f3"/>
<path d="M5.2 34.74L25.69 18.86L38.17 29.7L52.3 15.36" stroke="#fff" stroke-width="1.7" fill="none"/>
<circle cx="25.69" cy="18.86" r="3.9" fill="#fff"/><circle cx="38.17" cy="29.7" r="4" fill="#fff"/>
</g>
<text x="68" y="1655.7" font-size="25" fill="#131722" textLength="141" lengthAdjust="spacingAndGlyphs">TradingView</text>
</svg></body></html>
